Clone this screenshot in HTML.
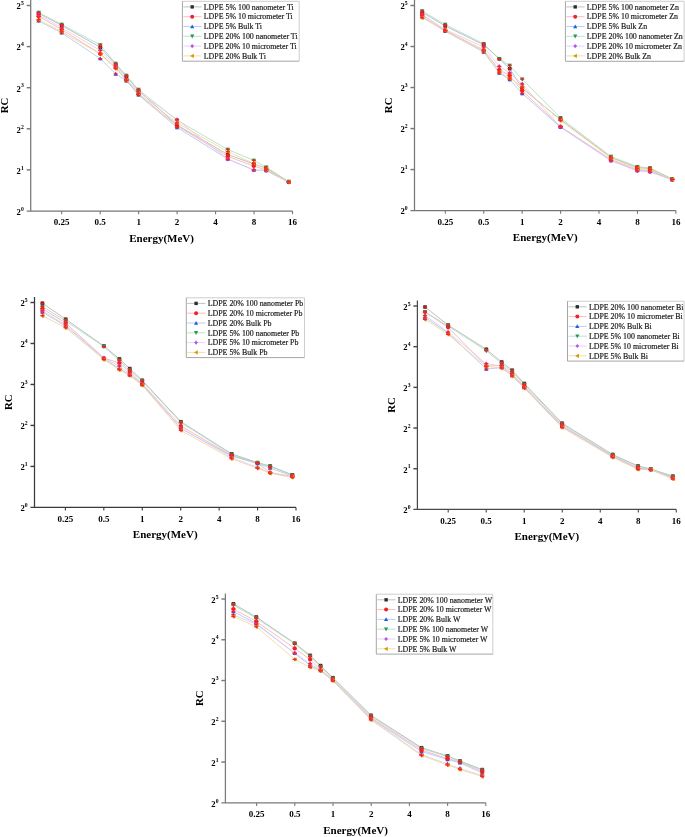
<!DOCTYPE html>
<html><head><meta charset="utf-8"><title>RC vs Energy</title>
<style>
html,body{margin:0;padding:0;background:#fff;}
body{width:685px;height:837px;overflow:hidden;font-family:"Liberation Serif",serif;}
svg{display:block;will-change:transform;}
</style></head>
<body>
<svg width="685" height="837" viewBox="0 0 685 837">
<rect width="685" height="837" fill="#fff"/>
<path d="M30.70 0.00V211.00M26.70 211.00H292.50" stroke="#777" stroke-width="1.25" fill="none"/>
<path d="M26.70 5.50H30.70" stroke="#777" stroke-width="1.45"/>
<text x="20.90" y="9.30" font-family='"Liberation Serif", serif' font-weight="bold" font-size="8.6" text-anchor="end">2</text>
<text x="21.00" y="5.20" font-family='"Liberation Serif", serif' font-weight="bold" font-size="5.7">5</text>
<path d="M26.70 46.60H30.70" stroke="#777" stroke-width="1.45"/>
<text x="20.90" y="50.40" font-family='"Liberation Serif", serif' font-weight="bold" font-size="8.6" text-anchor="end">2</text>
<text x="21.00" y="46.30" font-family='"Liberation Serif", serif' font-weight="bold" font-size="5.7">4</text>
<path d="M26.70 87.70H30.70" stroke="#777" stroke-width="1.45"/>
<text x="20.90" y="91.50" font-family='"Liberation Serif", serif' font-weight="bold" font-size="8.6" text-anchor="end">2</text>
<text x="21.00" y="87.40" font-family='"Liberation Serif", serif' font-weight="bold" font-size="5.7">3</text>
<path d="M26.70 128.80H30.70" stroke="#777" stroke-width="1.45"/>
<text x="20.90" y="132.60" font-family='"Liberation Serif", serif' font-weight="bold" font-size="8.6" text-anchor="end">2</text>
<text x="21.00" y="128.50" font-family='"Liberation Serif", serif' font-weight="bold" font-size="5.7">2</text>
<path d="M26.70 169.90H30.70" stroke="#777" stroke-width="1.45"/>
<text x="20.90" y="173.70" font-family='"Liberation Serif", serif' font-weight="bold" font-size="8.6" text-anchor="end">2</text>
<text x="21.00" y="169.60" font-family='"Liberation Serif", serif' font-weight="bold" font-size="5.7">1</text>
<text x="20.90" y="214.80" font-family='"Liberation Serif", serif' font-weight="bold" font-size="8.6" text-anchor="end">2</text>
<text x="21.00" y="210.70" font-family='"Liberation Serif", serif' font-weight="bold" font-size="5.7">0</text>
<path d="M61.70 211.00V214.20" stroke="#777" stroke-width="1.1"/>
<text x="61.70" y="225.20" font-family='"Liberation Serif", serif' font-weight="bold" font-size="9.0" text-anchor="middle">0.25</text>
<path d="M100.17 211.00V214.20" stroke="#777" stroke-width="1.1"/>
<text x="100.17" y="225.20" font-family='"Liberation Serif", serif' font-weight="bold" font-size="9.0" text-anchor="middle">0.5</text>
<path d="M138.63 211.00V214.20" stroke="#777" stroke-width="1.1"/>
<text x="138.63" y="225.20" font-family='"Liberation Serif", serif' font-weight="bold" font-size="9.0" text-anchor="middle">1</text>
<path d="M177.10 211.00V214.20" stroke="#777" stroke-width="1.1"/>
<text x="177.10" y="225.20" font-family='"Liberation Serif", serif' font-weight="bold" font-size="9.0" text-anchor="middle">2</text>
<path d="M215.57 211.00V214.20" stroke="#777" stroke-width="1.1"/>
<text x="215.57" y="225.20" font-family='"Liberation Serif", serif' font-weight="bold" font-size="9.0" text-anchor="middle">4</text>
<path d="M254.03 211.00V214.20" stroke="#777" stroke-width="1.1"/>
<text x="254.03" y="225.20" font-family='"Liberation Serif", serif' font-weight="bold" font-size="9.0" text-anchor="middle">8</text>
<path d="M292.50 211.00V214.20" stroke="#777" stroke-width="1.1"/>
<text x="292.50" y="225.20" font-family='"Liberation Serif", serif' font-weight="bold" font-size="9.0" text-anchor="middle">16</text>
<text x="161.60" y="241.80" font-family='"Liberation Serif", serif' font-weight="bold" font-size="11.0" text-anchor="middle">Energy(MeV)</text>
<text transform="translate(8.00 105.55) rotate(-90)" font-family='"Liberation Serif", serif' font-weight="bold" font-size="10.8" text-anchor="middle">RC</text>
<polyline points="38.60,13.20 61.70,25.40 100.30,47.30 115.70,64.60 126.40,76.50 138.50,90.50 177.00,125.00 227.80,154.50 253.80,164.00 266.20,168.00 288.80,182.00" fill="none" stroke="#b0b0b0" stroke-width="0.8"/>
<polyline points="38.60,16.30 61.70,29.60 100.30,53.80 115.70,67.70 126.40,80.00 138.50,94.30 177.00,125.80 227.80,156.50 253.80,166.00 266.20,170.00 288.80,182.00" fill="none" stroke="#ffa8a8" stroke-width="0.8"/>
<polyline points="38.60,20.80 61.70,32.80 100.30,58.60 115.70,73.90 126.40,80.80 138.50,94.80 177.00,127.40 227.80,159.00 253.80,170.00 266.20,170.50 288.80,182.20" fill="none" stroke="#a6c4f4" stroke-width="0.8"/>
<polyline points="38.60,12.60 61.70,24.40 100.30,45.00 115.70,63.60 126.40,75.60 138.50,89.60 177.00,120.20 227.80,149.50 253.80,160.40 266.20,167.20 288.80,181.60" fill="none" stroke="#a6dcbe" stroke-width="0.8"/>
<polyline points="38.60,14.80 61.70,27.80 100.30,50.30 115.70,66.00 126.40,79.00 138.50,91.70 177.00,119.60 227.80,159.30 253.80,170.00 266.20,170.50 288.80,182.20" fill="none" stroke="#dfc6f8" stroke-width="0.8"/>
<polyline points="38.60,19.50 61.70,31.80 100.30,54.00 115.70,68.60 126.40,80.20 138.50,93.30 177.00,122.80 227.80,151.70 253.80,163.50 266.20,169.00 288.80,182.00" fill="none" stroke="#f0d68c" stroke-width="0.8"/>
<rect x="36.84" y="11.44" width="3.52" height="3.52" fill="#2b2b2b"/>
<rect x="36.50" y="12.60" width="4.2" height="1.2" fill="#ff1a1a" opacity="0.9"/><path d="M38.60 11.40V15.10" stroke="#ff1a1a" stroke-width="0.75"/>
<rect x="59.94" y="23.64" width="3.52" height="3.52" fill="#2b2b2b"/>
<rect x="59.60" y="24.80" width="4.2" height="1.2" fill="#ff1a1a" opacity="0.9"/><path d="M61.70 23.60V27.30" stroke="#ff1a1a" stroke-width="0.75"/>
<rect x="98.54" y="45.54" width="3.52" height="3.52" fill="#2b2b2b"/>
<rect x="98.20" y="46.70" width="4.2" height="1.2" fill="#ff1a1a" opacity="0.9"/><path d="M100.30 45.50V49.20" stroke="#ff1a1a" stroke-width="0.75"/>
<rect x="113.94" y="62.84" width="3.52" height="3.52" fill="#2b2b2b"/>
<rect x="113.60" y="64.00" width="4.2" height="1.2" fill="#ff1a1a" opacity="0.9"/><path d="M115.70 62.80V66.50" stroke="#ff1a1a" stroke-width="0.75"/>
<rect x="124.64" y="74.74" width="3.52" height="3.52" fill="#2b2b2b"/>
<rect x="124.30" y="75.90" width="4.2" height="1.2" fill="#ff1a1a" opacity="0.9"/><path d="M126.40 74.70V78.40" stroke="#ff1a1a" stroke-width="0.75"/>
<rect x="136.74" y="88.74" width="3.52" height="3.52" fill="#2b2b2b"/>
<rect x="136.40" y="89.90" width="4.2" height="1.2" fill="#ff1a1a" opacity="0.9"/><path d="M138.50 88.70V92.40" stroke="#ff1a1a" stroke-width="0.75"/>
<rect x="175.24" y="123.24" width="3.52" height="3.52" fill="#2b2b2b"/>
<rect x="174.90" y="124.40" width="4.2" height="1.2" fill="#ff1a1a" opacity="0.9"/><path d="M177.00 123.20V126.90" stroke="#ff1a1a" stroke-width="0.75"/>
<rect x="226.04" y="152.74" width="3.52" height="3.52" fill="#2b2b2b"/>
<rect x="225.70" y="153.90" width="4.2" height="1.2" fill="#ff1a1a" opacity="0.9"/><path d="M227.80 152.70V156.40" stroke="#ff1a1a" stroke-width="0.75"/>
<rect x="252.04" y="162.24" width="3.52" height="3.52" fill="#2b2b2b"/>
<rect x="251.70" y="163.40" width="4.2" height="1.2" fill="#ff1a1a" opacity="0.9"/><path d="M253.80 162.20V165.90" stroke="#ff1a1a" stroke-width="0.75"/>
<rect x="264.44" y="166.24" width="3.52" height="3.52" fill="#2b2b2b"/>
<rect x="264.10" y="167.40" width="4.2" height="1.2" fill="#ff1a1a" opacity="0.9"/><path d="M266.20 166.20V169.90" stroke="#ff1a1a" stroke-width="0.75"/>
<rect x="287.04" y="180.24" width="3.52" height="3.52" fill="#2b2b2b"/>
<rect x="286.70" y="181.40" width="4.2" height="1.2" fill="#ff1a1a" opacity="0.9"/><path d="M288.80 180.20V183.90" stroke="#ff1a1a" stroke-width="0.75"/>
<circle cx="38.60" cy="16.30" r="2.09" fill="#f0202a"/>
<rect x="36.50" y="15.70" width="4.2" height="1.2" fill="#ff1a1a" opacity="0.9"/><path d="M38.60 14.50V18.20" stroke="#ff1a1a" stroke-width="0.75"/>
<circle cx="61.70" cy="29.60" r="2.09" fill="#f0202a"/>
<rect x="59.60" y="29.00" width="4.2" height="1.2" fill="#ff1a1a" opacity="0.9"/><path d="M61.70 27.80V31.50" stroke="#ff1a1a" stroke-width="0.75"/>
<circle cx="100.30" cy="53.80" r="2.09" fill="#f0202a"/>
<rect x="98.20" y="53.20" width="4.2" height="1.2" fill="#ff1a1a" opacity="0.9"/><path d="M100.30 52.00V55.70" stroke="#ff1a1a" stroke-width="0.75"/>
<circle cx="115.70" cy="67.70" r="2.09" fill="#f0202a"/>
<rect x="113.60" y="67.10" width="4.2" height="1.2" fill="#ff1a1a" opacity="0.9"/><path d="M115.70 65.90V69.60" stroke="#ff1a1a" stroke-width="0.75"/>
<circle cx="126.40" cy="80.00" r="2.09" fill="#f0202a"/>
<rect x="124.30" y="79.40" width="4.2" height="1.2" fill="#ff1a1a" opacity="0.9"/><path d="M126.40 78.20V81.90" stroke="#ff1a1a" stroke-width="0.75"/>
<circle cx="138.50" cy="94.30" r="2.09" fill="#f0202a"/>
<rect x="136.40" y="93.70" width="4.2" height="1.2" fill="#ff1a1a" opacity="0.9"/><path d="M138.50 92.50V96.20" stroke="#ff1a1a" stroke-width="0.75"/>
<circle cx="177.00" cy="125.80" r="2.09" fill="#f0202a"/>
<rect x="174.90" y="125.20" width="4.2" height="1.2" fill="#ff1a1a" opacity="0.9"/><path d="M177.00 124.00V127.70" stroke="#ff1a1a" stroke-width="0.75"/>
<circle cx="227.80" cy="156.50" r="2.09" fill="#f0202a"/>
<rect x="225.70" y="155.90" width="4.2" height="1.2" fill="#ff1a1a" opacity="0.9"/><path d="M227.80 154.70V158.40" stroke="#ff1a1a" stroke-width="0.75"/>
<circle cx="253.80" cy="166.00" r="2.09" fill="#f0202a"/>
<rect x="251.70" y="165.40" width="4.2" height="1.2" fill="#ff1a1a" opacity="0.9"/><path d="M253.80 164.20V167.90" stroke="#ff1a1a" stroke-width="0.75"/>
<circle cx="266.20" cy="170.00" r="2.09" fill="#f0202a"/>
<rect x="264.10" y="169.40" width="4.2" height="1.2" fill="#ff1a1a" opacity="0.9"/><path d="M266.20 168.20V171.90" stroke="#ff1a1a" stroke-width="0.75"/>
<circle cx="288.80" cy="182.00" r="2.09" fill="#f0202a"/>
<rect x="286.70" y="181.40" width="4.2" height="1.2" fill="#ff1a1a" opacity="0.9"/><path d="M288.80 180.20V183.90" stroke="#ff1a1a" stroke-width="0.75"/>
<path d="M38.60 18.60L40.80 22.56L36.40 22.56Z" fill="#1a5fe0"/>
<rect x="36.50" y="20.20" width="4.2" height="1.2" fill="#ff1a1a" opacity="0.9"/><path d="M38.60 19.00V22.70" stroke="#ff1a1a" stroke-width="0.75"/>
<path d="M61.70 30.60L63.90 34.56L59.50 34.56Z" fill="#1a5fe0"/>
<rect x="59.60" y="32.20" width="4.2" height="1.2" fill="#ff1a1a" opacity="0.9"/><path d="M61.70 31.00V34.70" stroke="#ff1a1a" stroke-width="0.75"/>
<path d="M100.30 56.40L102.50 60.36L98.10 60.36Z" fill="#1a5fe0"/>
<rect x="98.20" y="58.00" width="4.2" height="1.2" fill="#ff1a1a" opacity="0.9"/><path d="M100.30 56.80V60.50" stroke="#ff1a1a" stroke-width="0.75"/>
<path d="M115.70 71.70L117.90 75.66L113.50 75.66Z" fill="#1a5fe0"/>
<rect x="113.60" y="73.30" width="4.2" height="1.2" fill="#ff1a1a" opacity="0.9"/><path d="M115.70 72.10V75.80" stroke="#ff1a1a" stroke-width="0.75"/>
<path d="M126.40 78.60L128.60 82.56L124.20 82.56Z" fill="#1a5fe0"/>
<rect x="124.30" y="80.20" width="4.2" height="1.2" fill="#ff1a1a" opacity="0.9"/><path d="M126.40 79.00V82.70" stroke="#ff1a1a" stroke-width="0.75"/>
<path d="M138.50 92.60L140.70 96.56L136.30 96.56Z" fill="#1a5fe0"/>
<rect x="136.40" y="94.20" width="4.2" height="1.2" fill="#ff1a1a" opacity="0.9"/><path d="M138.50 93.00V96.70" stroke="#ff1a1a" stroke-width="0.75"/>
<path d="M177.00 125.20L179.20 129.16L174.80 129.16Z" fill="#1a5fe0"/>
<rect x="174.90" y="126.80" width="4.2" height="1.2" fill="#ff1a1a" opacity="0.9"/><path d="M177.00 125.60V129.30" stroke="#ff1a1a" stroke-width="0.75"/>
<path d="M227.80 156.80L230.00 160.76L225.60 160.76Z" fill="#1a5fe0"/>
<rect x="225.70" y="158.40" width="4.2" height="1.2" fill="#ff1a1a" opacity="0.9"/><path d="M227.80 157.20V160.90" stroke="#ff1a1a" stroke-width="0.75"/>
<path d="M253.80 167.80L256.00 171.76L251.60 171.76Z" fill="#1a5fe0"/>
<rect x="251.70" y="169.40" width="4.2" height="1.2" fill="#ff1a1a" opacity="0.9"/><path d="M253.80 168.20V171.90" stroke="#ff1a1a" stroke-width="0.75"/>
<path d="M266.20 168.30L268.40 172.26L264.00 172.26Z" fill="#1a5fe0"/>
<rect x="264.10" y="169.90" width="4.2" height="1.2" fill="#ff1a1a" opacity="0.9"/><path d="M266.20 168.70V172.40" stroke="#ff1a1a" stroke-width="0.75"/>
<path d="M288.80 180.00L291.00 183.96L286.60 183.96Z" fill="#1a5fe0"/>
<rect x="286.70" y="181.60" width="4.2" height="1.2" fill="#ff1a1a" opacity="0.9"/><path d="M288.80 180.40V184.10" stroke="#ff1a1a" stroke-width="0.75"/>
<path d="M38.60 14.80L40.80 10.84L36.40 10.84Z" fill="#1f9a58"/>
<rect x="36.50" y="12.00" width="4.2" height="1.2" fill="#ff1a1a" opacity="0.9"/><path d="M38.60 10.80V14.50" stroke="#ff1a1a" stroke-width="0.75"/>
<path d="M61.70 26.60L63.90 22.64L59.50 22.64Z" fill="#1f9a58"/>
<rect x="59.60" y="23.80" width="4.2" height="1.2" fill="#ff1a1a" opacity="0.9"/><path d="M61.70 22.60V26.30" stroke="#ff1a1a" stroke-width="0.75"/>
<path d="M100.30 47.20L102.50 43.24L98.10 43.24Z" fill="#1f9a58"/>
<rect x="98.20" y="44.40" width="4.2" height="1.2" fill="#ff1a1a" opacity="0.9"/><path d="M100.30 43.20V46.90" stroke="#ff1a1a" stroke-width="0.75"/>
<path d="M115.70 65.80L117.90 61.84L113.50 61.84Z" fill="#1f9a58"/>
<rect x="113.60" y="63.00" width="4.2" height="1.2" fill="#ff1a1a" opacity="0.9"/><path d="M115.70 61.80V65.50" stroke="#ff1a1a" stroke-width="0.75"/>
<path d="M126.40 77.80L128.60 73.84L124.20 73.84Z" fill="#1f9a58"/>
<rect x="124.30" y="75.00" width="4.2" height="1.2" fill="#ff1a1a" opacity="0.9"/><path d="M126.40 73.80V77.50" stroke="#ff1a1a" stroke-width="0.75"/>
<path d="M138.50 91.80L140.70 87.84L136.30 87.84Z" fill="#1f9a58"/>
<rect x="136.40" y="89.00" width="4.2" height="1.2" fill="#ff1a1a" opacity="0.9"/><path d="M138.50 87.80V91.50" stroke="#ff1a1a" stroke-width="0.75"/>
<path d="M177.00 122.40L179.20 118.44L174.80 118.44Z" fill="#1f9a58"/>
<rect x="174.90" y="119.60" width="4.2" height="1.2" fill="#ff1a1a" opacity="0.9"/><path d="M177.00 118.40V122.10" stroke="#ff1a1a" stroke-width="0.75"/>
<path d="M227.80 151.70L230.00 147.74L225.60 147.74Z" fill="#1f9a58"/>
<rect x="225.70" y="148.90" width="4.2" height="1.2" fill="#ff1a1a" opacity="0.9"/><path d="M227.80 147.70V151.40" stroke="#ff1a1a" stroke-width="0.75"/>
<path d="M253.80 162.60L256.00 158.64L251.60 158.64Z" fill="#1f9a58"/>
<rect x="251.70" y="159.80" width="4.2" height="1.2" fill="#ff1a1a" opacity="0.9"/><path d="M253.80 158.60V162.30" stroke="#ff1a1a" stroke-width="0.75"/>
<path d="M266.20 169.40L268.40 165.44L264.00 165.44Z" fill="#1f9a58"/>
<rect x="264.10" y="166.60" width="4.2" height="1.2" fill="#ff1a1a" opacity="0.9"/><path d="M266.20 165.40V169.10" stroke="#ff1a1a" stroke-width="0.75"/>
<path d="M288.80 183.80L291.00 179.84L286.60 179.84Z" fill="#1f9a58"/>
<rect x="286.70" y="181.00" width="4.2" height="1.2" fill="#ff1a1a" opacity="0.9"/><path d="M288.80 179.80V183.50" stroke="#ff1a1a" stroke-width="0.75"/>
<path d="M38.60 12.60L40.58 14.80L38.60 17.00L36.62 14.80Z" fill="#b05ce6"/>
<rect x="36.50" y="14.20" width="4.2" height="1.2" fill="#ff1a1a" opacity="0.9"/><path d="M38.60 13.00V16.70" stroke="#ff1a1a" stroke-width="0.75"/>
<path d="M61.70 25.60L63.68 27.80L61.70 30.00L59.72 27.80Z" fill="#b05ce6"/>
<rect x="59.60" y="27.20" width="4.2" height="1.2" fill="#ff1a1a" opacity="0.9"/><path d="M61.70 26.00V29.70" stroke="#ff1a1a" stroke-width="0.75"/>
<path d="M100.30 48.10L102.28 50.30L100.30 52.50L98.32 50.30Z" fill="#b05ce6"/>
<rect x="98.20" y="49.70" width="4.2" height="1.2" fill="#ff1a1a" opacity="0.9"/><path d="M100.30 48.50V52.20" stroke="#ff1a1a" stroke-width="0.75"/>
<path d="M115.70 63.80L117.68 66.00L115.70 68.20L113.72 66.00Z" fill="#b05ce6"/>
<rect x="113.60" y="65.40" width="4.2" height="1.2" fill="#ff1a1a" opacity="0.9"/><path d="M115.70 64.20V67.90" stroke="#ff1a1a" stroke-width="0.75"/>
<path d="M126.40 76.80L128.38 79.00L126.40 81.20L124.42 79.00Z" fill="#b05ce6"/>
<rect x="124.30" y="78.40" width="4.2" height="1.2" fill="#ff1a1a" opacity="0.9"/><path d="M126.40 77.20V80.90" stroke="#ff1a1a" stroke-width="0.75"/>
<path d="M138.50 89.50L140.48 91.70L138.50 93.90L136.52 91.70Z" fill="#b05ce6"/>
<rect x="136.40" y="91.10" width="4.2" height="1.2" fill="#ff1a1a" opacity="0.9"/><path d="M138.50 89.90V93.60" stroke="#ff1a1a" stroke-width="0.75"/>
<path d="M177.00 117.40L178.98 119.60L177.00 121.80L175.02 119.60Z" fill="#b05ce6"/>
<rect x="174.90" y="119.00" width="4.2" height="1.2" fill="#ff1a1a" opacity="0.9"/><path d="M177.00 117.80V121.50" stroke="#ff1a1a" stroke-width="0.75"/>
<path d="M227.80 157.10L229.78 159.30L227.80 161.50L225.82 159.30Z" fill="#b05ce6"/>
<rect x="225.70" y="158.70" width="4.2" height="1.2" fill="#ff1a1a" opacity="0.9"/><path d="M227.80 157.50V161.20" stroke="#ff1a1a" stroke-width="0.75"/>
<path d="M253.80 167.80L255.78 170.00L253.80 172.20L251.82 170.00Z" fill="#b05ce6"/>
<rect x="251.70" y="169.40" width="4.2" height="1.2" fill="#ff1a1a" opacity="0.9"/><path d="M253.80 168.20V171.90" stroke="#ff1a1a" stroke-width="0.75"/>
<path d="M266.20 168.30L268.18 170.50L266.20 172.70L264.22 170.50Z" fill="#b05ce6"/>
<rect x="264.10" y="169.90" width="4.2" height="1.2" fill="#ff1a1a" opacity="0.9"/><path d="M266.20 168.70V172.40" stroke="#ff1a1a" stroke-width="0.75"/>
<path d="M288.80 180.00L290.78 182.20L288.80 184.40L286.82 182.20Z" fill="#b05ce6"/>
<rect x="286.70" y="181.60" width="4.2" height="1.2" fill="#ff1a1a" opacity="0.9"/><path d="M288.80 180.40V184.10" stroke="#ff1a1a" stroke-width="0.75"/>
<path d="M36.40 19.50L40.36 17.30L40.36 21.70Z" fill="#d49a00"/>
<rect x="36.50" y="18.90" width="4.2" height="1.2" fill="#ff1a1a" opacity="0.9"/><path d="M38.60 17.70V21.40" stroke="#ff1a1a" stroke-width="0.75"/>
<path d="M59.50 31.80L63.46 29.60L63.46 34.00Z" fill="#d49a00"/>
<rect x="59.60" y="31.20" width="4.2" height="1.2" fill="#ff1a1a" opacity="0.9"/><path d="M61.70 30.00V33.70" stroke="#ff1a1a" stroke-width="0.75"/>
<path d="M98.10 54.00L102.06 51.80L102.06 56.20Z" fill="#d49a00"/>
<rect x="98.20" y="53.40" width="4.2" height="1.2" fill="#ff1a1a" opacity="0.9"/><path d="M100.30 52.20V55.90" stroke="#ff1a1a" stroke-width="0.75"/>
<path d="M113.50 68.60L117.46 66.40L117.46 70.80Z" fill="#d49a00"/>
<rect x="113.60" y="68.00" width="4.2" height="1.2" fill="#ff1a1a" opacity="0.9"/><path d="M115.70 66.80V70.50" stroke="#ff1a1a" stroke-width="0.75"/>
<path d="M124.20 80.20L128.16 78.00L128.16 82.40Z" fill="#d49a00"/>
<rect x="124.30" y="79.60" width="4.2" height="1.2" fill="#ff1a1a" opacity="0.9"/><path d="M126.40 78.40V82.10" stroke="#ff1a1a" stroke-width="0.75"/>
<path d="M136.30 93.30L140.26 91.10L140.26 95.50Z" fill="#d49a00"/>
<rect x="136.40" y="92.70" width="4.2" height="1.2" fill="#ff1a1a" opacity="0.9"/><path d="M138.50 91.50V95.20" stroke="#ff1a1a" stroke-width="0.75"/>
<path d="M174.80 122.80L178.76 120.60L178.76 125.00Z" fill="#d49a00"/>
<rect x="174.90" y="122.20" width="4.2" height="1.2" fill="#ff1a1a" opacity="0.9"/><path d="M177.00 121.00V124.70" stroke="#ff1a1a" stroke-width="0.75"/>
<path d="M225.60 151.70L229.56 149.50L229.56 153.90Z" fill="#d49a00"/>
<rect x="225.70" y="151.10" width="4.2" height="1.2" fill="#ff1a1a" opacity="0.9"/><path d="M227.80 149.90V153.60" stroke="#ff1a1a" stroke-width="0.75"/>
<path d="M251.60 163.50L255.56 161.30L255.56 165.70Z" fill="#d49a00"/>
<rect x="251.70" y="162.90" width="4.2" height="1.2" fill="#ff1a1a" opacity="0.9"/><path d="M253.80 161.70V165.40" stroke="#ff1a1a" stroke-width="0.75"/>
<path d="M264.00 169.00L267.96 166.80L267.96 171.20Z" fill="#d49a00"/>
<rect x="264.10" y="168.40" width="4.2" height="1.2" fill="#ff1a1a" opacity="0.9"/><path d="M266.20 167.20V170.90" stroke="#ff1a1a" stroke-width="0.75"/>
<path d="M286.60 182.00L290.56 179.80L290.56 184.20Z" fill="#d49a00"/>
<rect x="286.70" y="181.40" width="4.2" height="1.2" fill="#ff1a1a" opacity="0.9"/><path d="M288.80 180.20V183.90" stroke="#ff1a1a" stroke-width="0.75"/>
<rect x="182.40" y="1.30" width="116.80" height="59.90" fill="#fff"/>
<path d="M182.40 1.30H299.20V61.20" stroke="#cdcdcd" stroke-width="1.0" fill="none"/>
<path d="M182.40 1.30V61.20H299.20" stroke="#a6a6a6" stroke-width="1.0" fill="none"/>
<path d="M183.40 6.90H201.60" stroke="#b0b0b0" stroke-width="0.8"/>
<rect x="190.52" y="5.22" width="3.36" height="3.36" fill="#2b2b2b"/>
<text x="203.80" y="9.60" font-family='"Liberation Serif", serif' font-size="7.9" fill="#1a1a1a" stroke="#1a1a1a" stroke-width="0.18">LDPE 5% 100 nanometer Ti</text>
<path d="M183.40 16.70H201.60" stroke="#ffa8a8" stroke-width="0.8"/>
<circle cx="192.20" cy="16.70" r="1.99" fill="#f0202a"/>
<text x="203.80" y="19.40" font-family='"Liberation Serif", serif' font-size="7.9" fill="#1a1a1a" stroke="#1a1a1a" stroke-width="0.18">LDPE 5% 10 micrometer Ti</text>
<path d="M183.40 26.50H201.60" stroke="#a6c4f4" stroke-width="0.8"/>
<path d="M192.20 24.40L194.30 28.18L190.10 28.18Z" fill="#1a5fe0"/>
<text x="203.80" y="29.20" font-family='"Liberation Serif", serif' font-size="7.9" fill="#1a1a1a" stroke="#1a1a1a" stroke-width="0.18">LDPE 5% Bulk Ti</text>
<path d="M183.40 36.30H201.60" stroke="#a6dcbe" stroke-width="0.8"/>
<path d="M192.20 38.40L194.30 34.62L190.10 34.62Z" fill="#1f9a58"/>
<text x="203.80" y="39.00" font-family='"Liberation Serif", serif' font-size="7.9" fill="#1a1a1a" stroke="#1a1a1a" stroke-width="0.18">LDPE 20% 100 nanometer Ti</text>
<path d="M183.40 46.10H201.60" stroke="#dfc6f8" stroke-width="0.8"/>
<path d="M192.20 44.00L194.09 46.10L192.20 48.20L190.31 46.10Z" fill="#b05ce6"/>
<text x="203.80" y="48.80" font-family='"Liberation Serif", serif' font-size="7.9" fill="#1a1a1a" stroke="#1a1a1a" stroke-width="0.18">LDPE 20% 10 micrometer Ti</text>
<path d="M183.40 55.90H201.60" stroke="#f0d68c" stroke-width="0.8"/>
<path d="M190.10 55.90L193.88 53.80L193.88 58.00Z" fill="#d49a00"/>
<text x="203.80" y="58.60" font-family='"Liberation Serif", serif' font-size="7.9" fill="#1a1a1a" stroke="#1a1a1a" stroke-width="0.18">LDPE 20% Bulk Ti</text>
<path d="M414.50 0.00V210.60M410.50 210.60H675.90" stroke="#777" stroke-width="1.25" fill="none"/>
<path d="M410.50 5.50H414.50" stroke="#777" stroke-width="1.45"/>
<text x="404.70" y="9.30" font-family='"Liberation Serif", serif' font-weight="bold" font-size="8.6" text-anchor="end">2</text>
<text x="404.80" y="5.20" font-family='"Liberation Serif", serif' font-weight="bold" font-size="5.7">5</text>
<path d="M410.50 46.52H414.50" stroke="#777" stroke-width="1.45"/>
<text x="404.70" y="50.32" font-family='"Liberation Serif", serif' font-weight="bold" font-size="8.6" text-anchor="end">2</text>
<text x="404.80" y="46.22" font-family='"Liberation Serif", serif' font-weight="bold" font-size="5.7">4</text>
<path d="M410.50 87.54H414.50" stroke="#777" stroke-width="1.45"/>
<text x="404.70" y="91.34" font-family='"Liberation Serif", serif' font-weight="bold" font-size="8.6" text-anchor="end">2</text>
<text x="404.80" y="87.24" font-family='"Liberation Serif", serif' font-weight="bold" font-size="5.7">3</text>
<path d="M410.50 128.56H414.50" stroke="#777" stroke-width="1.45"/>
<text x="404.70" y="132.36" font-family='"Liberation Serif", serif' font-weight="bold" font-size="8.6" text-anchor="end">2</text>
<text x="404.80" y="128.26" font-family='"Liberation Serif", serif' font-weight="bold" font-size="5.7">2</text>
<path d="M410.50 169.58H414.50" stroke="#777" stroke-width="1.45"/>
<text x="404.70" y="173.38" font-family='"Liberation Serif", serif' font-weight="bold" font-size="8.6" text-anchor="end">2</text>
<text x="404.80" y="169.28" font-family='"Liberation Serif", serif' font-weight="bold" font-size="5.7">1</text>
<text x="404.70" y="214.40" font-family='"Liberation Serif", serif' font-weight="bold" font-size="8.6" text-anchor="end">2</text>
<text x="404.80" y="210.30" font-family='"Liberation Serif", serif' font-weight="bold" font-size="5.7">0</text>
<path d="M445.30 210.60V213.80" stroke="#777" stroke-width="1.1"/>
<text x="445.30" y="224.80" font-family='"Liberation Serif", serif' font-weight="bold" font-size="9.0" text-anchor="middle">0.25</text>
<path d="M483.73 210.60V213.80" stroke="#777" stroke-width="1.1"/>
<text x="483.73" y="224.80" font-family='"Liberation Serif", serif' font-weight="bold" font-size="9.0" text-anchor="middle">0.5</text>
<path d="M522.17 210.60V213.80" stroke="#777" stroke-width="1.1"/>
<text x="522.17" y="224.80" font-family='"Liberation Serif", serif' font-weight="bold" font-size="9.0" text-anchor="middle">1</text>
<path d="M560.60 210.60V213.80" stroke="#777" stroke-width="1.1"/>
<text x="560.60" y="224.80" font-family='"Liberation Serif", serif' font-weight="bold" font-size="9.0" text-anchor="middle">2</text>
<path d="M599.03 210.60V213.80" stroke="#777" stroke-width="1.1"/>
<text x="599.03" y="224.80" font-family='"Liberation Serif", serif' font-weight="bold" font-size="9.0" text-anchor="middle">4</text>
<path d="M637.47 210.60V213.80" stroke="#777" stroke-width="1.1"/>
<text x="637.47" y="224.80" font-family='"Liberation Serif", serif' font-weight="bold" font-size="9.0" text-anchor="middle">8</text>
<path d="M675.90 210.60V213.80" stroke="#777" stroke-width="1.1"/>
<text x="675.90" y="224.80" font-family='"Liberation Serif", serif' font-weight="bold" font-size="9.0" text-anchor="middle">16</text>
<text x="545.20" y="241.40" font-family='"Liberation Serif", serif' font-weight="bold" font-size="11.0" text-anchor="middle">Energy(MeV)</text>
<text transform="translate(391.80 105.35) rotate(-90)" font-family='"Liberation Serif", serif' font-weight="bold" font-size="10.8" text-anchor="middle">RC</text>
<polyline points="422.20,12.30 445.20,26.00 483.70,44.80 499.30,58.90 509.70,68.60 522.20,88.30 560.50,119.50 611.00,157.50 637.30,167.50 650.00,168.50 672.20,179.20" fill="none" stroke="#b0b0b0" stroke-width="0.8"/>
<polyline points="422.20,14.50 445.20,30.40 483.70,50.00 499.30,69.90 509.70,75.60 522.20,90.80 560.50,126.50 611.00,159.50 637.30,169.50 650.00,170.50 672.20,179.50" fill="none" stroke="#ffa8a8" stroke-width="0.8"/>
<polyline points="422.20,16.80 445.20,31.20 483.70,52.00 499.30,73.00 509.70,79.50 522.20,93.50 560.50,127.20 611.00,160.50 637.30,170.50 650.00,171.50 672.20,179.70" fill="none" stroke="#a6c4f4" stroke-width="0.8"/>
<polyline points="422.20,11.00 445.20,24.50 483.70,43.80 499.30,58.90 509.70,65.50 522.20,79.20 560.50,117.80 611.00,156.60 637.30,166.70 650.00,167.90 672.20,179.00" fill="none" stroke="#a6dcbe" stroke-width="0.8"/>
<polyline points="422.20,15.50 445.20,29.50 483.70,47.00 499.30,66.40 509.70,73.00 522.20,84.00 560.50,127.00 611.00,160.70 637.30,171.00 650.00,172.00 672.20,179.70" fill="none" stroke="#dfc6f8" stroke-width="0.8"/>
<polyline points="422.20,17.80 445.20,30.90 483.70,51.00 499.30,72.10 509.70,78.00 522.20,87.00 560.50,120.50 611.00,158.00 637.30,168.50 650.00,169.50 672.20,179.40" fill="none" stroke="#f0d68c" stroke-width="0.8"/>
<rect x="420.44" y="10.54" width="3.52" height="3.52" fill="#2b2b2b"/>
<rect x="420.10" y="11.70" width="4.2" height="1.2" fill="#ff1a1a" opacity="0.9"/><path d="M422.20 10.50V14.20" stroke="#ff1a1a" stroke-width="0.75"/>
<rect x="443.44" y="24.24" width="3.52" height="3.52" fill="#2b2b2b"/>
<rect x="443.10" y="25.40" width="4.2" height="1.2" fill="#ff1a1a" opacity="0.9"/><path d="M445.20 24.20V27.90" stroke="#ff1a1a" stroke-width="0.75"/>
<rect x="481.94" y="43.04" width="3.52" height="3.52" fill="#2b2b2b"/>
<rect x="481.60" y="44.20" width="4.2" height="1.2" fill="#ff1a1a" opacity="0.9"/><path d="M483.70 43.00V46.70" stroke="#ff1a1a" stroke-width="0.75"/>
<rect x="497.54" y="57.14" width="3.52" height="3.52" fill="#2b2b2b"/>
<rect x="497.20" y="58.30" width="4.2" height="1.2" fill="#ff1a1a" opacity="0.9"/><path d="M499.30 57.10V60.80" stroke="#ff1a1a" stroke-width="0.75"/>
<rect x="507.94" y="66.84" width="3.52" height="3.52" fill="#2b2b2b"/>
<rect x="507.60" y="68.00" width="4.2" height="1.2" fill="#ff1a1a" opacity="0.9"/><path d="M509.70 66.80V70.50" stroke="#ff1a1a" stroke-width="0.75"/>
<rect x="520.44" y="86.54" width="3.52" height="3.52" fill="#2b2b2b"/>
<rect x="520.10" y="87.70" width="4.2" height="1.2" fill="#ff1a1a" opacity="0.9"/><path d="M522.20 86.50V90.20" stroke="#ff1a1a" stroke-width="0.75"/>
<rect x="558.74" y="117.74" width="3.52" height="3.52" fill="#2b2b2b"/>
<rect x="558.40" y="118.90" width="4.2" height="1.2" fill="#ff1a1a" opacity="0.9"/><path d="M560.50 117.70V121.40" stroke="#ff1a1a" stroke-width="0.75"/>
<rect x="609.24" y="155.74" width="3.52" height="3.52" fill="#2b2b2b"/>
<rect x="608.90" y="156.90" width="4.2" height="1.2" fill="#ff1a1a" opacity="0.9"/><path d="M611.00 155.70V159.40" stroke="#ff1a1a" stroke-width="0.75"/>
<rect x="635.54" y="165.74" width="3.52" height="3.52" fill="#2b2b2b"/>
<rect x="635.20" y="166.90" width="4.2" height="1.2" fill="#ff1a1a" opacity="0.9"/><path d="M637.30 165.70V169.40" stroke="#ff1a1a" stroke-width="0.75"/>
<rect x="648.24" y="166.74" width="3.52" height="3.52" fill="#2b2b2b"/>
<rect x="647.90" y="167.90" width="4.2" height="1.2" fill="#ff1a1a" opacity="0.9"/><path d="M650.00 166.70V170.40" stroke="#ff1a1a" stroke-width="0.75"/>
<rect x="670.44" y="177.44" width="3.52" height="3.52" fill="#2b2b2b"/>
<rect x="670.10" y="178.60" width="4.2" height="1.2" fill="#ff1a1a" opacity="0.9"/><path d="M672.20 177.40V181.10" stroke="#ff1a1a" stroke-width="0.75"/>
<circle cx="422.20" cy="14.50" r="2.09" fill="#f0202a"/>
<rect x="420.10" y="13.90" width="4.2" height="1.2" fill="#ff1a1a" opacity="0.9"/><path d="M422.20 12.70V16.40" stroke="#ff1a1a" stroke-width="0.75"/>
<circle cx="445.20" cy="30.40" r="2.09" fill="#f0202a"/>
<rect x="443.10" y="29.80" width="4.2" height="1.2" fill="#ff1a1a" opacity="0.9"/><path d="M445.20 28.60V32.30" stroke="#ff1a1a" stroke-width="0.75"/>
<circle cx="483.70" cy="50.00" r="2.09" fill="#f0202a"/>
<rect x="481.60" y="49.40" width="4.2" height="1.2" fill="#ff1a1a" opacity="0.9"/><path d="M483.70 48.20V51.90" stroke="#ff1a1a" stroke-width="0.75"/>
<circle cx="499.30" cy="69.90" r="2.09" fill="#f0202a"/>
<rect x="497.20" y="69.30" width="4.2" height="1.2" fill="#ff1a1a" opacity="0.9"/><path d="M499.30 68.10V71.80" stroke="#ff1a1a" stroke-width="0.75"/>
<circle cx="509.70" cy="75.60" r="2.09" fill="#f0202a"/>
<rect x="507.60" y="75.00" width="4.2" height="1.2" fill="#ff1a1a" opacity="0.9"/><path d="M509.70 73.80V77.50" stroke="#ff1a1a" stroke-width="0.75"/>
<circle cx="522.20" cy="90.80" r="2.09" fill="#f0202a"/>
<rect x="520.10" y="90.20" width="4.2" height="1.2" fill="#ff1a1a" opacity="0.9"/><path d="M522.20 89.00V92.70" stroke="#ff1a1a" stroke-width="0.75"/>
<circle cx="560.50" cy="126.50" r="2.09" fill="#f0202a"/>
<rect x="558.40" y="125.90" width="4.2" height="1.2" fill="#ff1a1a" opacity="0.9"/><path d="M560.50 124.70V128.40" stroke="#ff1a1a" stroke-width="0.75"/>
<circle cx="611.00" cy="159.50" r="2.09" fill="#f0202a"/>
<rect x="608.90" y="158.90" width="4.2" height="1.2" fill="#ff1a1a" opacity="0.9"/><path d="M611.00 157.70V161.40" stroke="#ff1a1a" stroke-width="0.75"/>
<circle cx="637.30" cy="169.50" r="2.09" fill="#f0202a"/>
<rect x="635.20" y="168.90" width="4.2" height="1.2" fill="#ff1a1a" opacity="0.9"/><path d="M637.30 167.70V171.40" stroke="#ff1a1a" stroke-width="0.75"/>
<circle cx="650.00" cy="170.50" r="2.09" fill="#f0202a"/>
<rect x="647.90" y="169.90" width="4.2" height="1.2" fill="#ff1a1a" opacity="0.9"/><path d="M650.00 168.70V172.40" stroke="#ff1a1a" stroke-width="0.75"/>
<circle cx="672.20" cy="179.50" r="2.09" fill="#f0202a"/>
<rect x="670.10" y="178.90" width="4.2" height="1.2" fill="#ff1a1a" opacity="0.9"/><path d="M672.20 177.70V181.40" stroke="#ff1a1a" stroke-width="0.75"/>
<path d="M422.20 14.60L424.40 18.56L420.00 18.56Z" fill="#1a5fe0"/>
<rect x="420.10" y="16.20" width="4.2" height="1.2" fill="#ff1a1a" opacity="0.9"/><path d="M422.20 15.00V18.70" stroke="#ff1a1a" stroke-width="0.75"/>
<path d="M445.20 29.00L447.40 32.96L443.00 32.96Z" fill="#1a5fe0"/>
<rect x="443.10" y="30.60" width="4.2" height="1.2" fill="#ff1a1a" opacity="0.9"/><path d="M445.20 29.40V33.10" stroke="#ff1a1a" stroke-width="0.75"/>
<path d="M483.70 49.80L485.90 53.76L481.50 53.76Z" fill="#1a5fe0"/>
<rect x="481.60" y="51.40" width="4.2" height="1.2" fill="#ff1a1a" opacity="0.9"/><path d="M483.70 50.20V53.90" stroke="#ff1a1a" stroke-width="0.75"/>
<path d="M499.30 70.80L501.50 74.76L497.10 74.76Z" fill="#1a5fe0"/>
<rect x="497.20" y="72.40" width="4.2" height="1.2" fill="#ff1a1a" opacity="0.9"/><path d="M499.30 71.20V74.90" stroke="#ff1a1a" stroke-width="0.75"/>
<path d="M509.70 77.30L511.90 81.26L507.50 81.26Z" fill="#1a5fe0"/>
<rect x="507.60" y="78.90" width="4.2" height="1.2" fill="#ff1a1a" opacity="0.9"/><path d="M509.70 77.70V81.40" stroke="#ff1a1a" stroke-width="0.75"/>
<path d="M522.20 91.30L524.40 95.26L520.00 95.26Z" fill="#1a5fe0"/>
<rect x="520.10" y="92.90" width="4.2" height="1.2" fill="#ff1a1a" opacity="0.9"/><path d="M522.20 91.70V95.40" stroke="#ff1a1a" stroke-width="0.75"/>
<path d="M560.50 125.00L562.70 128.96L558.30 128.96Z" fill="#1a5fe0"/>
<rect x="558.40" y="126.60" width="4.2" height="1.2" fill="#ff1a1a" opacity="0.9"/><path d="M560.50 125.40V129.10" stroke="#ff1a1a" stroke-width="0.75"/>
<path d="M611.00 158.30L613.20 162.26L608.80 162.26Z" fill="#1a5fe0"/>
<rect x="608.90" y="159.90" width="4.2" height="1.2" fill="#ff1a1a" opacity="0.9"/><path d="M611.00 158.70V162.40" stroke="#ff1a1a" stroke-width="0.75"/>
<path d="M637.30 168.30L639.50 172.26L635.10 172.26Z" fill="#1a5fe0"/>
<rect x="635.20" y="169.90" width="4.2" height="1.2" fill="#ff1a1a" opacity="0.9"/><path d="M637.30 168.70V172.40" stroke="#ff1a1a" stroke-width="0.75"/>
<path d="M650.00 169.30L652.20 173.26L647.80 173.26Z" fill="#1a5fe0"/>
<rect x="647.90" y="170.90" width="4.2" height="1.2" fill="#ff1a1a" opacity="0.9"/><path d="M650.00 169.70V173.40" stroke="#ff1a1a" stroke-width="0.75"/>
<path d="M672.20 177.50L674.40 181.46L670.00 181.46Z" fill="#1a5fe0"/>
<rect x="670.10" y="179.10" width="4.2" height="1.2" fill="#ff1a1a" opacity="0.9"/><path d="M672.20 177.90V181.60" stroke="#ff1a1a" stroke-width="0.75"/>
<path d="M422.20 13.20L424.40 9.24L420.00 9.24Z" fill="#1f9a58"/>
<rect x="420.10" y="10.40" width="4.2" height="1.2" fill="#ff1a1a" opacity="0.9"/><path d="M422.20 9.20V12.90" stroke="#ff1a1a" stroke-width="0.75"/>
<path d="M445.20 26.70L447.40 22.74L443.00 22.74Z" fill="#1f9a58"/>
<rect x="443.10" y="23.90" width="4.2" height="1.2" fill="#ff1a1a" opacity="0.9"/><path d="M445.20 22.70V26.40" stroke="#ff1a1a" stroke-width="0.75"/>
<path d="M483.70 46.00L485.90 42.04L481.50 42.04Z" fill="#1f9a58"/>
<rect x="481.60" y="43.20" width="4.2" height="1.2" fill="#ff1a1a" opacity="0.9"/><path d="M483.70 42.00V45.70" stroke="#ff1a1a" stroke-width="0.75"/>
<path d="M499.30 61.10L501.50 57.14L497.10 57.14Z" fill="#1f9a58"/>
<rect x="497.20" y="58.30" width="4.2" height="1.2" fill="#ff1a1a" opacity="0.9"/><path d="M499.30 57.10V60.80" stroke="#ff1a1a" stroke-width="0.75"/>
<path d="M509.70 67.70L511.90 63.74L507.50 63.74Z" fill="#1f9a58"/>
<rect x="507.60" y="64.90" width="4.2" height="1.2" fill="#ff1a1a" opacity="0.9"/><path d="M509.70 63.70V67.40" stroke="#ff1a1a" stroke-width="0.75"/>
<path d="M522.20 81.40L524.40 77.44L520.00 77.44Z" fill="#1f9a58"/>
<rect x="520.10" y="78.60" width="4.2" height="1.2" fill="#ff1a1a" opacity="0.9"/><path d="M522.20 77.40V81.10" stroke="#ff1a1a" stroke-width="0.75"/>
<path d="M560.50 120.00L562.70 116.04L558.30 116.04Z" fill="#1f9a58"/>
<rect x="558.40" y="117.20" width="4.2" height="1.2" fill="#ff1a1a" opacity="0.9"/><path d="M560.50 116.00V119.70" stroke="#ff1a1a" stroke-width="0.75"/>
<path d="M611.00 158.80L613.20 154.84L608.80 154.84Z" fill="#1f9a58"/>
<rect x="608.90" y="156.00" width="4.2" height="1.2" fill="#ff1a1a" opacity="0.9"/><path d="M611.00 154.80V158.50" stroke="#ff1a1a" stroke-width="0.75"/>
<path d="M637.30 168.90L639.50 164.94L635.10 164.94Z" fill="#1f9a58"/>
<rect x="635.20" y="166.10" width="4.2" height="1.2" fill="#ff1a1a" opacity="0.9"/><path d="M637.30 164.90V168.60" stroke="#ff1a1a" stroke-width="0.75"/>
<path d="M650.00 170.10L652.20 166.14L647.80 166.14Z" fill="#1f9a58"/>
<rect x="647.90" y="167.30" width="4.2" height="1.2" fill="#ff1a1a" opacity="0.9"/><path d="M650.00 166.10V169.80" stroke="#ff1a1a" stroke-width="0.75"/>
<path d="M672.20 181.20L674.40 177.24L670.00 177.24Z" fill="#1f9a58"/>
<rect x="670.10" y="178.40" width="4.2" height="1.2" fill="#ff1a1a" opacity="0.9"/><path d="M672.20 177.20V180.90" stroke="#ff1a1a" stroke-width="0.75"/>
<path d="M422.20 13.30L424.18 15.50L422.20 17.70L420.22 15.50Z" fill="#b05ce6"/>
<rect x="420.10" y="14.90" width="4.2" height="1.2" fill="#ff1a1a" opacity="0.9"/><path d="M422.20 13.70V17.40" stroke="#ff1a1a" stroke-width="0.75"/>
<path d="M445.20 27.30L447.18 29.50L445.20 31.70L443.22 29.50Z" fill="#b05ce6"/>
<rect x="443.10" y="28.90" width="4.2" height="1.2" fill="#ff1a1a" opacity="0.9"/><path d="M445.20 27.70V31.40" stroke="#ff1a1a" stroke-width="0.75"/>
<path d="M483.70 44.80L485.68 47.00L483.70 49.20L481.72 47.00Z" fill="#b05ce6"/>
<rect x="481.60" y="46.40" width="4.2" height="1.2" fill="#ff1a1a" opacity="0.9"/><path d="M483.70 45.20V48.90" stroke="#ff1a1a" stroke-width="0.75"/>
<path d="M499.30 64.20L501.28 66.40L499.30 68.60L497.32 66.40Z" fill="#b05ce6"/>
<rect x="497.20" y="65.80" width="4.2" height="1.2" fill="#ff1a1a" opacity="0.9"/><path d="M499.30 64.60V68.30" stroke="#ff1a1a" stroke-width="0.75"/>
<path d="M509.70 70.80L511.68 73.00L509.70 75.20L507.72 73.00Z" fill="#b05ce6"/>
<rect x="507.60" y="72.40" width="4.2" height="1.2" fill="#ff1a1a" opacity="0.9"/><path d="M509.70 71.20V74.90" stroke="#ff1a1a" stroke-width="0.75"/>
<path d="M522.20 81.80L524.18 84.00L522.20 86.20L520.22 84.00Z" fill="#b05ce6"/>
<rect x="520.10" y="83.40" width="4.2" height="1.2" fill="#ff1a1a" opacity="0.9"/><path d="M522.20 82.20V85.90" stroke="#ff1a1a" stroke-width="0.75"/>
<path d="M560.50 124.80L562.48 127.00L560.50 129.20L558.52 127.00Z" fill="#b05ce6"/>
<rect x="558.40" y="126.40" width="4.2" height="1.2" fill="#ff1a1a" opacity="0.9"/><path d="M560.50 125.20V128.90" stroke="#ff1a1a" stroke-width="0.75"/>
<path d="M611.00 158.50L612.98 160.70L611.00 162.90L609.02 160.70Z" fill="#b05ce6"/>
<rect x="608.90" y="160.10" width="4.2" height="1.2" fill="#ff1a1a" opacity="0.9"/><path d="M611.00 158.90V162.60" stroke="#ff1a1a" stroke-width="0.75"/>
<path d="M637.30 168.80L639.28 171.00L637.30 173.20L635.32 171.00Z" fill="#b05ce6"/>
<rect x="635.20" y="170.40" width="4.2" height="1.2" fill="#ff1a1a" opacity="0.9"/><path d="M637.30 169.20V172.90" stroke="#ff1a1a" stroke-width="0.75"/>
<path d="M650.00 169.80L651.98 172.00L650.00 174.20L648.02 172.00Z" fill="#b05ce6"/>
<rect x="647.90" y="171.40" width="4.2" height="1.2" fill="#ff1a1a" opacity="0.9"/><path d="M650.00 170.20V173.90" stroke="#ff1a1a" stroke-width="0.75"/>
<path d="M672.20 177.50L674.18 179.70L672.20 181.90L670.22 179.70Z" fill="#b05ce6"/>
<rect x="670.10" y="179.10" width="4.2" height="1.2" fill="#ff1a1a" opacity="0.9"/><path d="M672.20 177.90V181.60" stroke="#ff1a1a" stroke-width="0.75"/>
<path d="M420.00 17.80L423.96 15.60L423.96 20.00Z" fill="#d49a00"/>
<rect x="420.10" y="17.20" width="4.2" height="1.2" fill="#ff1a1a" opacity="0.9"/><path d="M422.20 16.00V19.70" stroke="#ff1a1a" stroke-width="0.75"/>
<path d="M443.00 30.90L446.96 28.70L446.96 33.10Z" fill="#d49a00"/>
<rect x="443.10" y="30.30" width="4.2" height="1.2" fill="#ff1a1a" opacity="0.9"/><path d="M445.20 29.10V32.80" stroke="#ff1a1a" stroke-width="0.75"/>
<path d="M481.50 51.00L485.46 48.80L485.46 53.20Z" fill="#d49a00"/>
<rect x="481.60" y="50.40" width="4.2" height="1.2" fill="#ff1a1a" opacity="0.9"/><path d="M483.70 49.20V52.90" stroke="#ff1a1a" stroke-width="0.75"/>
<path d="M497.10 72.10L501.06 69.90L501.06 74.30Z" fill="#d49a00"/>
<rect x="497.20" y="71.50" width="4.2" height="1.2" fill="#ff1a1a" opacity="0.9"/><path d="M499.30 70.30V74.00" stroke="#ff1a1a" stroke-width="0.75"/>
<path d="M507.50 78.00L511.46 75.80L511.46 80.20Z" fill="#d49a00"/>
<rect x="507.60" y="77.40" width="4.2" height="1.2" fill="#ff1a1a" opacity="0.9"/><path d="M509.70 76.20V79.90" stroke="#ff1a1a" stroke-width="0.75"/>
<path d="M520.00 87.00L523.96 84.80L523.96 89.20Z" fill="#d49a00"/>
<rect x="520.10" y="86.40" width="4.2" height="1.2" fill="#ff1a1a" opacity="0.9"/><path d="M522.20 85.20V88.90" stroke="#ff1a1a" stroke-width="0.75"/>
<path d="M558.30 120.50L562.26 118.30L562.26 122.70Z" fill="#d49a00"/>
<rect x="558.40" y="119.90" width="4.2" height="1.2" fill="#ff1a1a" opacity="0.9"/><path d="M560.50 118.70V122.40" stroke="#ff1a1a" stroke-width="0.75"/>
<path d="M608.80 158.00L612.76 155.80L612.76 160.20Z" fill="#d49a00"/>
<rect x="608.90" y="157.40" width="4.2" height="1.2" fill="#ff1a1a" opacity="0.9"/><path d="M611.00 156.20V159.90" stroke="#ff1a1a" stroke-width="0.75"/>
<path d="M635.10 168.50L639.06 166.30L639.06 170.70Z" fill="#d49a00"/>
<rect x="635.20" y="167.90" width="4.2" height="1.2" fill="#ff1a1a" opacity="0.9"/><path d="M637.30 166.70V170.40" stroke="#ff1a1a" stroke-width="0.75"/>
<path d="M647.80 169.50L651.76 167.30L651.76 171.70Z" fill="#d49a00"/>
<rect x="647.90" y="168.90" width="4.2" height="1.2" fill="#ff1a1a" opacity="0.9"/><path d="M650.00 167.70V171.40" stroke="#ff1a1a" stroke-width="0.75"/>
<path d="M670.00 179.40L673.96 177.20L673.96 181.60Z" fill="#d49a00"/>
<rect x="670.10" y="178.80" width="4.2" height="1.2" fill="#ff1a1a" opacity="0.9"/><path d="M672.20 177.60V181.30" stroke="#ff1a1a" stroke-width="0.75"/>
<rect x="565.40" y="1.30" width="118.70" height="60.00" fill="#fff"/>
<path d="M565.40 1.30H684.10V61.30" stroke="#cdcdcd" stroke-width="1.0" fill="none"/>
<path d="M565.40 1.30V61.30H684.10" stroke="#a6a6a6" stroke-width="1.0" fill="none"/>
<path d="M566.40 6.90H584.60" stroke="#b0b0b0" stroke-width="0.8"/>
<rect x="573.52" y="5.22" width="3.36" height="3.36" fill="#2b2b2b"/>
<text x="586.80" y="9.60" font-family='"Liberation Serif", serif' font-size="7.9" fill="#1a1a1a" stroke="#1a1a1a" stroke-width="0.18">LDPE 5% 100 nanometer Zn</text>
<path d="M566.40 16.70H584.60" stroke="#ffa8a8" stroke-width="0.8"/>
<circle cx="575.20" cy="16.70" r="1.99" fill="#f0202a"/>
<text x="586.80" y="19.40" font-family='"Liberation Serif", serif' font-size="7.9" fill="#1a1a1a" stroke="#1a1a1a" stroke-width="0.18">LDPE 5% 10 micrometer Zn</text>
<path d="M566.40 26.50H584.60" stroke="#a6c4f4" stroke-width="0.8"/>
<path d="M575.20 24.40L577.30 28.18L573.10 28.18Z" fill="#1a5fe0"/>
<text x="586.80" y="29.20" font-family='"Liberation Serif", serif' font-size="7.9" fill="#1a1a1a" stroke="#1a1a1a" stroke-width="0.18">LDPE 5% Bulk Zn</text>
<path d="M566.40 36.30H584.60" stroke="#a6dcbe" stroke-width="0.8"/>
<path d="M575.20 38.40L577.30 34.62L573.10 34.62Z" fill="#1f9a58"/>
<text x="586.80" y="39.00" font-family='"Liberation Serif", serif' font-size="7.9" fill="#1a1a1a" stroke="#1a1a1a" stroke-width="0.18">LDPE 20% 100 nanometer Zn</text>
<path d="M566.40 46.10H584.60" stroke="#dfc6f8" stroke-width="0.8"/>
<path d="M575.20 44.00L577.09 46.10L575.20 48.20L573.31 46.10Z" fill="#b05ce6"/>
<text x="586.80" y="48.80" font-family='"Liberation Serif", serif' font-size="7.9" fill="#1a1a1a" stroke="#1a1a1a" stroke-width="0.18">LDPE 20% 10 micrometer Zn</text>
<path d="M566.40 55.90H584.60" stroke="#f0d68c" stroke-width="0.8"/>
<path d="M573.10 55.90L576.88 53.80L576.88 58.00Z" fill="#d49a00"/>
<text x="586.80" y="58.60" font-family='"Liberation Serif", serif' font-size="7.9" fill="#1a1a1a" stroke="#1a1a1a" stroke-width="0.18">LDPE 20% Bulk Zn</text>
<path d="M34.50 297.00V507.40M30.50 507.40H296.00" stroke="#3a3a3a" stroke-width="1.25" fill="none"/>
<path d="M30.50 302.50H34.50" stroke="#3a3a3a" stroke-width="1.45"/>
<text x="24.70" y="306.30" font-family='"Liberation Serif", serif' font-weight="bold" font-size="8.6" text-anchor="end">2</text>
<text x="24.80" y="302.20" font-family='"Liberation Serif", serif' font-weight="bold" font-size="5.7">5</text>
<path d="M30.50 343.48H34.50" stroke="#3a3a3a" stroke-width="1.45"/>
<text x="24.70" y="347.28" font-family='"Liberation Serif", serif' font-weight="bold" font-size="8.6" text-anchor="end">2</text>
<text x="24.80" y="343.18" font-family='"Liberation Serif", serif' font-weight="bold" font-size="5.7">4</text>
<path d="M30.50 384.46H34.50" stroke="#3a3a3a" stroke-width="1.45"/>
<text x="24.70" y="388.26" font-family='"Liberation Serif", serif' font-weight="bold" font-size="8.6" text-anchor="end">2</text>
<text x="24.80" y="384.16" font-family='"Liberation Serif", serif' font-weight="bold" font-size="5.7">3</text>
<path d="M30.50 425.44H34.50" stroke="#3a3a3a" stroke-width="1.45"/>
<text x="24.70" y="429.24" font-family='"Liberation Serif", serif' font-weight="bold" font-size="8.6" text-anchor="end">2</text>
<text x="24.80" y="425.14" font-family='"Liberation Serif", serif' font-weight="bold" font-size="5.7">2</text>
<path d="M30.50 466.42H34.50" stroke="#3a3a3a" stroke-width="1.45"/>
<text x="24.70" y="470.22" font-family='"Liberation Serif", serif' font-weight="bold" font-size="8.6" text-anchor="end">2</text>
<text x="24.80" y="466.12" font-family='"Liberation Serif", serif' font-weight="bold" font-size="5.7">1</text>
<text x="24.70" y="511.20" font-family='"Liberation Serif", serif' font-weight="bold" font-size="8.6" text-anchor="end">2</text>
<text x="24.80" y="507.10" font-family='"Liberation Serif", serif' font-weight="bold" font-size="5.7">0</text>
<path d="M65.40 507.40V510.60" stroke="#3a3a3a" stroke-width="1.1"/>
<text x="65.40" y="521.60" font-family='"Liberation Serif", serif' font-weight="bold" font-size="9.0" text-anchor="middle">0.25</text>
<path d="M103.83 507.40V510.60" stroke="#3a3a3a" stroke-width="1.1"/>
<text x="103.83" y="521.60" font-family='"Liberation Serif", serif' font-weight="bold" font-size="9.0" text-anchor="middle">0.5</text>
<path d="M142.27 507.40V510.60" stroke="#3a3a3a" stroke-width="1.1"/>
<text x="142.27" y="521.60" font-family='"Liberation Serif", serif' font-weight="bold" font-size="9.0" text-anchor="middle">1</text>
<path d="M180.70 507.40V510.60" stroke="#3a3a3a" stroke-width="1.1"/>
<text x="180.70" y="521.60" font-family='"Liberation Serif", serif' font-weight="bold" font-size="9.0" text-anchor="middle">2</text>
<path d="M219.13 507.40V510.60" stroke="#3a3a3a" stroke-width="1.1"/>
<text x="219.13" y="521.60" font-family='"Liberation Serif", serif' font-weight="bold" font-size="9.0" text-anchor="middle">4</text>
<path d="M257.57 507.40V510.60" stroke="#3a3a3a" stroke-width="1.1"/>
<text x="257.57" y="521.60" font-family='"Liberation Serif", serif' font-weight="bold" font-size="9.0" text-anchor="middle">8</text>
<path d="M296.00 507.40V510.60" stroke="#3a3a3a" stroke-width="1.1"/>
<text x="296.00" y="521.60" font-family='"Liberation Serif", serif' font-weight="bold" font-size="9.0" text-anchor="middle">16</text>
<text x="165.25" y="538.20" font-family='"Liberation Serif", serif' font-weight="bold" font-size="11.0" text-anchor="middle">Energy(MeV)</text>
<text transform="translate(11.80 402.25) rotate(-90)" font-family='"Liberation Serif", serif' font-weight="bold" font-size="10.8" text-anchor="middle">RC</text>
<polyline points="42.40,303.20 65.70,319.20 103.90,346.00 119.40,358.90 129.80,368.60 142.20,380.30 180.90,421.70 231.60,453.80 257.50,462.60 270.10,466.00 292.30,474.80" fill="none" stroke="#b0b0b0" stroke-width="0.8"/>
<polyline points="42.40,308.70 65.70,323.00 103.90,358.00 119.40,363.00 129.80,372.00 142.20,383.50 180.90,426.00 231.60,455.50 257.50,463.20 270.10,472.50 292.30,476.50" fill="none" stroke="#ffa8a8" stroke-width="0.8"/>
<polyline points="42.40,312.00 65.70,326.00 103.90,358.50 119.40,368.60 129.80,375.00 142.20,384.50 180.90,428.50 231.60,456.00 257.50,463.50 270.10,468.00 292.30,476.00" fill="none" stroke="#a6c4f4" stroke-width="0.8"/>
<polyline points="42.40,306.40 65.70,321.00 103.90,346.60 119.40,360.70 129.80,370.30 142.20,381.00 180.90,422.50 231.60,454.50 257.50,462.80 270.10,466.50 292.30,475.00" fill="none" stroke="#a6dcbe" stroke-width="0.8"/>
<polyline points="42.40,310.80 65.70,325.10 103.90,358.00 119.40,366.00 129.80,374.00 142.20,384.00 180.90,428.00 231.60,457.50 257.50,467.50 270.10,472.80 292.30,477.00" fill="none" stroke="#dfc6f8" stroke-width="0.8"/>
<polyline points="42.40,315.70 65.70,327.80 103.90,359.50 119.40,369.80 129.80,375.60 142.20,385.20 180.90,430.40 231.60,458.70 257.50,468.30 270.10,473.20 292.30,477.30" fill="none" stroke="#f0d68c" stroke-width="0.8"/>
<rect x="40.64" y="301.44" width="3.52" height="3.52" fill="#2b2b2b"/>
<rect x="40.30" y="302.60" width="4.2" height="1.2" fill="#ff1a1a" opacity="0.9"/><path d="M42.40 301.40V305.10" stroke="#ff1a1a" stroke-width="0.75"/>
<rect x="63.94" y="317.44" width="3.52" height="3.52" fill="#2b2b2b"/>
<rect x="63.60" y="318.60" width="4.2" height="1.2" fill="#ff1a1a" opacity="0.9"/><path d="M65.70 317.40V321.10" stroke="#ff1a1a" stroke-width="0.75"/>
<rect x="102.14" y="344.24" width="3.52" height="3.52" fill="#2b2b2b"/>
<rect x="101.80" y="345.40" width="4.2" height="1.2" fill="#ff1a1a" opacity="0.9"/><path d="M103.90 344.20V347.90" stroke="#ff1a1a" stroke-width="0.75"/>
<rect x="117.64" y="357.14" width="3.52" height="3.52" fill="#2b2b2b"/>
<rect x="117.30" y="358.30" width="4.2" height="1.2" fill="#ff1a1a" opacity="0.9"/><path d="M119.40 357.10V360.80" stroke="#ff1a1a" stroke-width="0.75"/>
<rect x="128.04" y="366.84" width="3.52" height="3.52" fill="#2b2b2b"/>
<rect x="127.70" y="368.00" width="4.2" height="1.2" fill="#ff1a1a" opacity="0.9"/><path d="M129.80 366.80V370.50" stroke="#ff1a1a" stroke-width="0.75"/>
<rect x="140.44" y="378.54" width="3.52" height="3.52" fill="#2b2b2b"/>
<rect x="140.10" y="379.70" width="4.2" height="1.2" fill="#ff1a1a" opacity="0.9"/><path d="M142.20 378.50V382.20" stroke="#ff1a1a" stroke-width="0.75"/>
<rect x="179.14" y="419.94" width="3.52" height="3.52" fill="#2b2b2b"/>
<rect x="178.80" y="421.10" width="4.2" height="1.2" fill="#ff1a1a" opacity="0.9"/><path d="M180.90 419.90V423.60" stroke="#ff1a1a" stroke-width="0.75"/>
<rect x="229.84" y="452.04" width="3.52" height="3.52" fill="#2b2b2b"/>
<rect x="229.50" y="453.20" width="4.2" height="1.2" fill="#ff1a1a" opacity="0.9"/><path d="M231.60 452.00V455.70" stroke="#ff1a1a" stroke-width="0.75"/>
<rect x="255.74" y="460.84" width="3.52" height="3.52" fill="#2b2b2b"/>
<rect x="255.40" y="462.00" width="4.2" height="1.2" fill="#ff1a1a" opacity="0.9"/><path d="M257.50 460.80V464.50" stroke="#ff1a1a" stroke-width="0.75"/>
<rect x="268.34" y="464.24" width="3.52" height="3.52" fill="#2b2b2b"/>
<rect x="268.00" y="465.40" width="4.2" height="1.2" fill="#ff1a1a" opacity="0.9"/><path d="M270.10 464.20V467.90" stroke="#ff1a1a" stroke-width="0.75"/>
<rect x="290.54" y="473.04" width="3.52" height="3.52" fill="#2b2b2b"/>
<rect x="290.20" y="474.20" width="4.2" height="1.2" fill="#ff1a1a" opacity="0.9"/><path d="M292.30 473.00V476.70" stroke="#ff1a1a" stroke-width="0.75"/>
<circle cx="42.40" cy="308.70" r="2.09" fill="#f0202a"/>
<rect x="40.30" y="308.10" width="4.2" height="1.2" fill="#ff1a1a" opacity="0.9"/><path d="M42.40 306.90V310.60" stroke="#ff1a1a" stroke-width="0.75"/>
<circle cx="65.70" cy="323.00" r="2.09" fill="#f0202a"/>
<rect x="63.60" y="322.40" width="4.2" height="1.2" fill="#ff1a1a" opacity="0.9"/><path d="M65.70 321.20V324.90" stroke="#ff1a1a" stroke-width="0.75"/>
<circle cx="103.90" cy="358.00" r="2.09" fill="#f0202a"/>
<rect x="101.80" y="357.40" width="4.2" height="1.2" fill="#ff1a1a" opacity="0.9"/><path d="M103.90 356.20V359.90" stroke="#ff1a1a" stroke-width="0.75"/>
<circle cx="119.40" cy="363.00" r="2.09" fill="#f0202a"/>
<rect x="117.30" y="362.40" width="4.2" height="1.2" fill="#ff1a1a" opacity="0.9"/><path d="M119.40 361.20V364.90" stroke="#ff1a1a" stroke-width="0.75"/>
<circle cx="129.80" cy="372.00" r="2.09" fill="#f0202a"/>
<rect x="127.70" y="371.40" width="4.2" height="1.2" fill="#ff1a1a" opacity="0.9"/><path d="M129.80 370.20V373.90" stroke="#ff1a1a" stroke-width="0.75"/>
<circle cx="142.20" cy="383.50" r="2.09" fill="#f0202a"/>
<rect x="140.10" y="382.90" width="4.2" height="1.2" fill="#ff1a1a" opacity="0.9"/><path d="M142.20 381.70V385.40" stroke="#ff1a1a" stroke-width="0.75"/>
<circle cx="180.90" cy="426.00" r="2.09" fill="#f0202a"/>
<rect x="178.80" y="425.40" width="4.2" height="1.2" fill="#ff1a1a" opacity="0.9"/><path d="M180.90 424.20V427.90" stroke="#ff1a1a" stroke-width="0.75"/>
<circle cx="231.60" cy="455.50" r="2.09" fill="#f0202a"/>
<rect x="229.50" y="454.90" width="4.2" height="1.2" fill="#ff1a1a" opacity="0.9"/><path d="M231.60 453.70V457.40" stroke="#ff1a1a" stroke-width="0.75"/>
<circle cx="257.50" cy="463.20" r="2.09" fill="#f0202a"/>
<rect x="255.40" y="462.60" width="4.2" height="1.2" fill="#ff1a1a" opacity="0.9"/><path d="M257.50 461.40V465.10" stroke="#ff1a1a" stroke-width="0.75"/>
<circle cx="270.10" cy="472.50" r="2.09" fill="#f0202a"/>
<rect x="268.00" y="471.90" width="4.2" height="1.2" fill="#ff1a1a" opacity="0.9"/><path d="M270.10 470.70V474.40" stroke="#ff1a1a" stroke-width="0.75"/>
<circle cx="292.30" cy="476.50" r="2.09" fill="#f0202a"/>
<rect x="290.20" y="475.90" width="4.2" height="1.2" fill="#ff1a1a" opacity="0.9"/><path d="M292.30 474.70V478.40" stroke="#ff1a1a" stroke-width="0.75"/>
<path d="M42.40 309.80L44.60 313.76L40.20 313.76Z" fill="#1a5fe0"/>
<rect x="40.30" y="311.40" width="4.2" height="1.2" fill="#ff1a1a" opacity="0.9"/><path d="M42.40 310.20V313.90" stroke="#ff1a1a" stroke-width="0.75"/>
<path d="M65.70 323.80L67.90 327.76L63.50 327.76Z" fill="#1a5fe0"/>
<rect x="63.60" y="325.40" width="4.2" height="1.2" fill="#ff1a1a" opacity="0.9"/><path d="M65.70 324.20V327.90" stroke="#ff1a1a" stroke-width="0.75"/>
<path d="M103.90 356.30L106.10 360.26L101.70 360.26Z" fill="#1a5fe0"/>
<rect x="101.80" y="357.90" width="4.2" height="1.2" fill="#ff1a1a" opacity="0.9"/><path d="M103.90 356.70V360.40" stroke="#ff1a1a" stroke-width="0.75"/>
<path d="M119.40 366.40L121.60 370.36L117.20 370.36Z" fill="#1a5fe0"/>
<rect x="117.30" y="368.00" width="4.2" height="1.2" fill="#ff1a1a" opacity="0.9"/><path d="M119.40 366.80V370.50" stroke="#ff1a1a" stroke-width="0.75"/>
<path d="M129.80 372.80L132.00 376.76L127.60 376.76Z" fill="#1a5fe0"/>
<rect x="127.70" y="374.40" width="4.2" height="1.2" fill="#ff1a1a" opacity="0.9"/><path d="M129.80 373.20V376.90" stroke="#ff1a1a" stroke-width="0.75"/>
<path d="M142.20 382.30L144.40 386.26L140.00 386.26Z" fill="#1a5fe0"/>
<rect x="140.10" y="383.90" width="4.2" height="1.2" fill="#ff1a1a" opacity="0.9"/><path d="M142.20 382.70V386.40" stroke="#ff1a1a" stroke-width="0.75"/>
<path d="M180.90 426.30L183.10 430.26L178.70 430.26Z" fill="#1a5fe0"/>
<rect x="178.80" y="427.90" width="4.2" height="1.2" fill="#ff1a1a" opacity="0.9"/><path d="M180.90 426.70V430.40" stroke="#ff1a1a" stroke-width="0.75"/>
<path d="M231.60 453.80L233.80 457.76L229.40 457.76Z" fill="#1a5fe0"/>
<rect x="229.50" y="455.40" width="4.2" height="1.2" fill="#ff1a1a" opacity="0.9"/><path d="M231.60 454.20V457.90" stroke="#ff1a1a" stroke-width="0.75"/>
<path d="M257.50 461.30L259.70 465.26L255.30 465.26Z" fill="#1a5fe0"/>
<rect x="255.40" y="462.90" width="4.2" height="1.2" fill="#ff1a1a" opacity="0.9"/><path d="M257.50 461.70V465.40" stroke="#ff1a1a" stroke-width="0.75"/>
<path d="M270.10 465.80L272.30 469.76L267.90 469.76Z" fill="#1a5fe0"/>
<rect x="268.00" y="467.40" width="4.2" height="1.2" fill="#ff1a1a" opacity="0.9"/><path d="M270.10 466.20V469.90" stroke="#ff1a1a" stroke-width="0.75"/>
<path d="M292.30 473.80L294.50 477.76L290.10 477.76Z" fill="#1a5fe0"/>
<rect x="290.20" y="475.40" width="4.2" height="1.2" fill="#ff1a1a" opacity="0.9"/><path d="M292.30 474.20V477.90" stroke="#ff1a1a" stroke-width="0.75"/>
<path d="M42.40 308.60L44.60 304.64L40.20 304.64Z" fill="#1f9a58"/>
<rect x="40.30" y="305.80" width="4.2" height="1.2" fill="#ff1a1a" opacity="0.9"/><path d="M42.40 304.60V308.30" stroke="#ff1a1a" stroke-width="0.75"/>
<path d="M65.70 323.20L67.90 319.24L63.50 319.24Z" fill="#1f9a58"/>
<rect x="63.60" y="320.40" width="4.2" height="1.2" fill="#ff1a1a" opacity="0.9"/><path d="M65.70 319.20V322.90" stroke="#ff1a1a" stroke-width="0.75"/>
<path d="M103.90 348.80L106.10 344.84L101.70 344.84Z" fill="#1f9a58"/>
<rect x="101.80" y="346.00" width="4.2" height="1.2" fill="#ff1a1a" opacity="0.9"/><path d="M103.90 344.80V348.50" stroke="#ff1a1a" stroke-width="0.75"/>
<path d="M119.40 362.90L121.60 358.94L117.20 358.94Z" fill="#1f9a58"/>
<rect x="117.30" y="360.10" width="4.2" height="1.2" fill="#ff1a1a" opacity="0.9"/><path d="M119.40 358.90V362.60" stroke="#ff1a1a" stroke-width="0.75"/>
<path d="M129.80 372.50L132.00 368.54L127.60 368.54Z" fill="#1f9a58"/>
<rect x="127.70" y="369.70" width="4.2" height="1.2" fill="#ff1a1a" opacity="0.9"/><path d="M129.80 368.50V372.20" stroke="#ff1a1a" stroke-width="0.75"/>
<path d="M142.20 383.20L144.40 379.24L140.00 379.24Z" fill="#1f9a58"/>
<rect x="140.10" y="380.40" width="4.2" height="1.2" fill="#ff1a1a" opacity="0.9"/><path d="M142.20 379.20V382.90" stroke="#ff1a1a" stroke-width="0.75"/>
<path d="M180.90 424.70L183.10 420.74L178.70 420.74Z" fill="#1f9a58"/>
<rect x="178.80" y="421.90" width="4.2" height="1.2" fill="#ff1a1a" opacity="0.9"/><path d="M180.90 420.70V424.40" stroke="#ff1a1a" stroke-width="0.75"/>
<path d="M231.60 456.70L233.80 452.74L229.40 452.74Z" fill="#1f9a58"/>
<rect x="229.50" y="453.90" width="4.2" height="1.2" fill="#ff1a1a" opacity="0.9"/><path d="M231.60 452.70V456.40" stroke="#ff1a1a" stroke-width="0.75"/>
<path d="M257.50 465.00L259.70 461.04L255.30 461.04Z" fill="#1f9a58"/>
<rect x="255.40" y="462.20" width="4.2" height="1.2" fill="#ff1a1a" opacity="0.9"/><path d="M257.50 461.00V464.70" stroke="#ff1a1a" stroke-width="0.75"/>
<path d="M270.10 468.70L272.30 464.74L267.90 464.74Z" fill="#1f9a58"/>
<rect x="268.00" y="465.90" width="4.2" height="1.2" fill="#ff1a1a" opacity="0.9"/><path d="M270.10 464.70V468.40" stroke="#ff1a1a" stroke-width="0.75"/>
<path d="M292.30 477.20L294.50 473.24L290.10 473.24Z" fill="#1f9a58"/>
<rect x="290.20" y="474.40" width="4.2" height="1.2" fill="#ff1a1a" opacity="0.9"/><path d="M292.30 473.20V476.90" stroke="#ff1a1a" stroke-width="0.75"/>
<path d="M42.40 308.60L44.38 310.80L42.40 313.00L40.42 310.80Z" fill="#b05ce6"/>
<rect x="40.30" y="310.20" width="4.2" height="1.2" fill="#ff1a1a" opacity="0.9"/><path d="M42.40 309.00V312.70" stroke="#ff1a1a" stroke-width="0.75"/>
<path d="M65.70 322.90L67.68 325.10L65.70 327.30L63.72 325.10Z" fill="#b05ce6"/>
<rect x="63.60" y="324.50" width="4.2" height="1.2" fill="#ff1a1a" opacity="0.9"/><path d="M65.70 323.30V327.00" stroke="#ff1a1a" stroke-width="0.75"/>
<path d="M103.90 355.80L105.88 358.00L103.90 360.20L101.92 358.00Z" fill="#b05ce6"/>
<rect x="101.80" y="357.40" width="4.2" height="1.2" fill="#ff1a1a" opacity="0.9"/><path d="M103.90 356.20V359.90" stroke="#ff1a1a" stroke-width="0.75"/>
<path d="M119.40 363.80L121.38 366.00L119.40 368.20L117.42 366.00Z" fill="#b05ce6"/>
<rect x="117.30" y="365.40" width="4.2" height="1.2" fill="#ff1a1a" opacity="0.9"/><path d="M119.40 364.20V367.90" stroke="#ff1a1a" stroke-width="0.75"/>
<path d="M129.80 371.80L131.78 374.00L129.80 376.20L127.82 374.00Z" fill="#b05ce6"/>
<rect x="127.70" y="373.40" width="4.2" height="1.2" fill="#ff1a1a" opacity="0.9"/><path d="M129.80 372.20V375.90" stroke="#ff1a1a" stroke-width="0.75"/>
<path d="M142.20 381.80L144.18 384.00L142.20 386.20L140.22 384.00Z" fill="#b05ce6"/>
<rect x="140.10" y="383.40" width="4.2" height="1.2" fill="#ff1a1a" opacity="0.9"/><path d="M142.20 382.20V385.90" stroke="#ff1a1a" stroke-width="0.75"/>
<path d="M180.90 425.80L182.88 428.00L180.90 430.20L178.92 428.00Z" fill="#b05ce6"/>
<rect x="178.80" y="427.40" width="4.2" height="1.2" fill="#ff1a1a" opacity="0.9"/><path d="M180.90 426.20V429.90" stroke="#ff1a1a" stroke-width="0.75"/>
<path d="M231.60 455.30L233.58 457.50L231.60 459.70L229.62 457.50Z" fill="#b05ce6"/>
<rect x="229.50" y="456.90" width="4.2" height="1.2" fill="#ff1a1a" opacity="0.9"/><path d="M231.60 455.70V459.40" stroke="#ff1a1a" stroke-width="0.75"/>
<path d="M257.50 465.30L259.48 467.50L257.50 469.70L255.52 467.50Z" fill="#b05ce6"/>
<rect x="255.40" y="466.90" width="4.2" height="1.2" fill="#ff1a1a" opacity="0.9"/><path d="M257.50 465.70V469.40" stroke="#ff1a1a" stroke-width="0.75"/>
<path d="M270.10 470.60L272.08 472.80L270.10 475.00L268.12 472.80Z" fill="#b05ce6"/>
<rect x="268.00" y="472.20" width="4.2" height="1.2" fill="#ff1a1a" opacity="0.9"/><path d="M270.10 471.00V474.70" stroke="#ff1a1a" stroke-width="0.75"/>
<path d="M292.30 474.80L294.28 477.00L292.30 479.20L290.32 477.00Z" fill="#b05ce6"/>
<rect x="290.20" y="476.40" width="4.2" height="1.2" fill="#ff1a1a" opacity="0.9"/><path d="M292.30 475.20V478.90" stroke="#ff1a1a" stroke-width="0.75"/>
<path d="M40.20 315.70L44.16 313.50L44.16 317.90Z" fill="#d49a00"/>
<rect x="40.30" y="315.10" width="4.2" height="1.2" fill="#ff1a1a" opacity="0.9"/><path d="M42.40 313.90V317.60" stroke="#ff1a1a" stroke-width="0.75"/>
<path d="M63.50 327.80L67.46 325.60L67.46 330.00Z" fill="#d49a00"/>
<rect x="63.60" y="327.20" width="4.2" height="1.2" fill="#ff1a1a" opacity="0.9"/><path d="M65.70 326.00V329.70" stroke="#ff1a1a" stroke-width="0.75"/>
<path d="M101.70 359.50L105.66 357.30L105.66 361.70Z" fill="#d49a00"/>
<rect x="101.80" y="358.90" width="4.2" height="1.2" fill="#ff1a1a" opacity="0.9"/><path d="M103.90 357.70V361.40" stroke="#ff1a1a" stroke-width="0.75"/>
<path d="M117.20 369.80L121.16 367.60L121.16 372.00Z" fill="#d49a00"/>
<rect x="117.30" y="369.20" width="4.2" height="1.2" fill="#ff1a1a" opacity="0.9"/><path d="M119.40 368.00V371.70" stroke="#ff1a1a" stroke-width="0.75"/>
<path d="M127.60 375.60L131.56 373.40L131.56 377.80Z" fill="#d49a00"/>
<rect x="127.70" y="375.00" width="4.2" height="1.2" fill="#ff1a1a" opacity="0.9"/><path d="M129.80 373.80V377.50" stroke="#ff1a1a" stroke-width="0.75"/>
<path d="M140.00 385.20L143.96 383.00L143.96 387.40Z" fill="#d49a00"/>
<rect x="140.10" y="384.60" width="4.2" height="1.2" fill="#ff1a1a" opacity="0.9"/><path d="M142.20 383.40V387.10" stroke="#ff1a1a" stroke-width="0.75"/>
<path d="M178.70 430.40L182.66 428.20L182.66 432.60Z" fill="#d49a00"/>
<rect x="178.80" y="429.80" width="4.2" height="1.2" fill="#ff1a1a" opacity="0.9"/><path d="M180.90 428.60V432.30" stroke="#ff1a1a" stroke-width="0.75"/>
<path d="M229.40 458.70L233.36 456.50L233.36 460.90Z" fill="#d49a00"/>
<rect x="229.50" y="458.10" width="4.2" height="1.2" fill="#ff1a1a" opacity="0.9"/><path d="M231.60 456.90V460.60" stroke="#ff1a1a" stroke-width="0.75"/>
<path d="M255.30 468.30L259.26 466.10L259.26 470.50Z" fill="#d49a00"/>
<rect x="255.40" y="467.70" width="4.2" height="1.2" fill="#ff1a1a" opacity="0.9"/><path d="M257.50 466.50V470.20" stroke="#ff1a1a" stroke-width="0.75"/>
<path d="M267.90 473.20L271.86 471.00L271.86 475.40Z" fill="#d49a00"/>
<rect x="268.00" y="472.60" width="4.2" height="1.2" fill="#ff1a1a" opacity="0.9"/><path d="M270.10 471.40V475.10" stroke="#ff1a1a" stroke-width="0.75"/>
<path d="M290.10 477.30L294.06 475.10L294.06 479.50Z" fill="#d49a00"/>
<rect x="290.20" y="476.70" width="4.2" height="1.2" fill="#ff1a1a" opacity="0.9"/><path d="M292.30 475.50V479.20" stroke="#ff1a1a" stroke-width="0.75"/>
<rect x="186.30" y="297.80" width="118.20" height="59.80" fill="#fff"/>
<path d="M186.30 297.80H304.50V357.60" stroke="#cdcdcd" stroke-width="1.0" fill="none"/>
<path d="M186.30 297.80V357.60H304.50" stroke="#a6a6a6" stroke-width="1.0" fill="none"/>
<path d="M187.30 303.40H205.50" stroke="#b0b0b0" stroke-width="0.8"/>
<rect x="194.42" y="301.72" width="3.36" height="3.36" fill="#2b2b2b"/>
<text x="207.70" y="306.10" font-family='"Liberation Serif", serif' font-size="7.9" fill="#1a1a1a" stroke="#1a1a1a" stroke-width="0.18">LDPE 20% 100 nanometer Pb</text>
<path d="M187.30 313.20H205.50" stroke="#ffa8a8" stroke-width="0.8"/>
<circle cx="196.10" cy="313.20" r="1.99" fill="#f0202a"/>
<text x="207.70" y="315.90" font-family='"Liberation Serif", serif' font-size="7.9" fill="#1a1a1a" stroke="#1a1a1a" stroke-width="0.18">LDPE 20% 10 micrometer Pb</text>
<path d="M187.30 323.00H205.50" stroke="#a6c4f4" stroke-width="0.8"/>
<path d="M196.10 320.90L198.20 324.68L194.00 324.68Z" fill="#1a5fe0"/>
<text x="207.70" y="325.70" font-family='"Liberation Serif", serif' font-size="7.9" fill="#1a1a1a" stroke="#1a1a1a" stroke-width="0.18">LDPE 20% Bulk Pb</text>
<path d="M187.30 332.80H205.50" stroke="#a6dcbe" stroke-width="0.8"/>
<path d="M196.10 334.90L198.20 331.12L194.00 331.12Z" fill="#1f9a58"/>
<text x="207.70" y="335.50" font-family='"Liberation Serif", serif' font-size="7.9" fill="#1a1a1a" stroke="#1a1a1a" stroke-width="0.18">LDPE 5% 100 nanometer Pb</text>
<path d="M187.30 342.60H205.50" stroke="#dfc6f8" stroke-width="0.8"/>
<path d="M196.10 340.50L197.99 342.60L196.10 344.70L194.21 342.60Z" fill="#b05ce6"/>
<text x="207.70" y="345.30" font-family='"Liberation Serif", serif' font-size="7.9" fill="#1a1a1a" stroke="#1a1a1a" stroke-width="0.18">LDPE 5% 10 micrometer Pb</text>
<path d="M187.30 352.40H205.50" stroke="#f0d68c" stroke-width="0.8"/>
<path d="M194.00 352.40L197.78 350.30L197.78 354.50Z" fill="#d49a00"/>
<text x="207.70" y="355.10" font-family='"Liberation Serif", serif' font-size="7.9" fill="#1a1a1a" stroke="#1a1a1a" stroke-width="0.18">LDPE 5% Bulk Pb</text>
<path d="M417.40 300.50V509.40M413.40 509.40H676.30" stroke="#4a4a4a" stroke-width="1.25" fill="none"/>
<path d="M413.40 306.00H417.40" stroke="#4a4a4a" stroke-width="1.45"/>
<text x="407.60" y="309.80" font-family='"Liberation Serif", serif' font-weight="bold" font-size="8.6" text-anchor="end">2</text>
<text x="407.70" y="305.70" font-family='"Liberation Serif", serif' font-weight="bold" font-size="5.7">5</text>
<path d="M413.40 346.68H417.40" stroke="#4a4a4a" stroke-width="1.45"/>
<text x="407.60" y="350.48" font-family='"Liberation Serif", serif' font-weight="bold" font-size="8.6" text-anchor="end">2</text>
<text x="407.70" y="346.38" font-family='"Liberation Serif", serif' font-weight="bold" font-size="5.7">4</text>
<path d="M413.40 387.36H417.40" stroke="#4a4a4a" stroke-width="1.45"/>
<text x="407.60" y="391.16" font-family='"Liberation Serif", serif' font-weight="bold" font-size="8.6" text-anchor="end">2</text>
<text x="407.70" y="387.06" font-family='"Liberation Serif", serif' font-weight="bold" font-size="5.7">3</text>
<path d="M413.40 428.04H417.40" stroke="#4a4a4a" stroke-width="1.45"/>
<text x="407.60" y="431.84" font-family='"Liberation Serif", serif' font-weight="bold" font-size="8.6" text-anchor="end">2</text>
<text x="407.70" y="427.74" font-family='"Liberation Serif", serif' font-weight="bold" font-size="5.7">2</text>
<path d="M413.40 468.72H417.40" stroke="#4a4a4a" stroke-width="1.45"/>
<text x="407.60" y="472.52" font-family='"Liberation Serif", serif' font-weight="bold" font-size="8.6" text-anchor="end">2</text>
<text x="407.70" y="468.42" font-family='"Liberation Serif", serif' font-weight="bold" font-size="5.7">1</text>
<text x="407.60" y="513.20" font-family='"Liberation Serif", serif' font-weight="bold" font-size="8.6" text-anchor="end">2</text>
<text x="407.70" y="509.10" font-family='"Liberation Serif", serif' font-weight="bold" font-size="5.7">0</text>
<path d="M448.20 509.40V512.60" stroke="#4a4a4a" stroke-width="1.1"/>
<text x="448.20" y="523.60" font-family='"Liberation Serif", serif' font-weight="bold" font-size="9.0" text-anchor="middle">0.25</text>
<path d="M486.22 509.40V512.60" stroke="#4a4a4a" stroke-width="1.1"/>
<text x="486.22" y="523.60" font-family='"Liberation Serif", serif' font-weight="bold" font-size="9.0" text-anchor="middle">0.5</text>
<path d="M524.23 509.40V512.60" stroke="#4a4a4a" stroke-width="1.1"/>
<text x="524.23" y="523.60" font-family='"Liberation Serif", serif' font-weight="bold" font-size="9.0" text-anchor="middle">1</text>
<path d="M562.25 509.40V512.60" stroke="#4a4a4a" stroke-width="1.1"/>
<text x="562.25" y="523.60" font-family='"Liberation Serif", serif' font-weight="bold" font-size="9.0" text-anchor="middle">2</text>
<path d="M600.27 509.40V512.60" stroke="#4a4a4a" stroke-width="1.1"/>
<text x="600.27" y="523.60" font-family='"Liberation Serif", serif' font-weight="bold" font-size="9.0" text-anchor="middle">4</text>
<path d="M638.28 509.40V512.60" stroke="#4a4a4a" stroke-width="1.1"/>
<text x="638.28" y="523.60" font-family='"Liberation Serif", serif' font-weight="bold" font-size="9.0" text-anchor="middle">8</text>
<path d="M676.30 509.40V512.60" stroke="#4a4a4a" stroke-width="1.1"/>
<text x="676.30" y="523.60" font-family='"Liberation Serif", serif' font-weight="bold" font-size="9.0" text-anchor="middle">16</text>
<text x="546.85" y="540.20" font-family='"Liberation Serif", serif' font-weight="bold" font-size="11.0" text-anchor="middle">Energy(MeV)</text>
<text transform="translate(394.70 405.00) rotate(-90)" font-family='"Liberation Serif", serif' font-weight="bold" font-size="10.8" text-anchor="middle">RC</text>
<polyline points="425.00,307.00 448.10,325.10 486.30,349.30 501.70,362.00 512.10,370.20 524.30,383.50 562.10,423.20 612.70,454.50 638.00,466.00 650.80,469.00 672.90,476.20" fill="none" stroke="#b0b0b0" stroke-width="0.8"/>
<polyline points="425.00,312.00 448.10,327.30 486.30,366.00 501.70,365.40 512.10,373.70 524.30,386.50 562.10,425.50 612.70,456.00 638.00,468.00 650.80,469.50 672.90,477.50" fill="none" stroke="#ffa8a8" stroke-width="0.8"/>
<polyline points="425.00,317.30 448.10,333.00 486.30,369.00 501.70,367.60 512.10,375.50 524.30,387.50 562.10,426.50 612.70,456.50 638.00,468.50 650.80,469.60 672.90,478.00" fill="none" stroke="#a6c4f4" stroke-width="0.8"/>
<polyline points="425.00,311.80 448.10,326.00 486.30,350.80 501.70,363.70 512.10,371.60 524.30,384.50 562.10,424.00 612.70,455.00 638.00,466.50 650.80,469.20 672.90,476.50" fill="none" stroke="#a6dcbe" stroke-width="0.8"/>
<polyline points="425.00,315.50 448.10,332.20 486.30,363.70 501.70,366.00 512.10,375.00 524.30,387.00 562.10,426.00 612.70,456.50 638.00,468.50 650.80,469.60 672.90,478.00" fill="none" stroke="#dfc6f8" stroke-width="0.8"/>
<polyline points="425.00,319.40 448.10,334.40 486.30,366.50 501.70,368.00 512.10,376.00 524.30,388.20 562.10,427.50 612.70,457.40 638.00,469.40 650.80,469.80 672.90,479.00" fill="none" stroke="#f0d68c" stroke-width="0.8"/>
<rect x="423.24" y="305.24" width="3.52" height="3.52" fill="#2b2b2b"/>
<rect x="422.90" y="306.40" width="4.2" height="1.2" fill="#ff1a1a" opacity="0.9"/><path d="M425.00 305.20V308.90" stroke="#ff1a1a" stroke-width="0.75"/>
<rect x="446.34" y="323.34" width="3.52" height="3.52" fill="#2b2b2b"/>
<rect x="446.00" y="324.50" width="4.2" height="1.2" fill="#ff1a1a" opacity="0.9"/><path d="M448.10 323.30V327.00" stroke="#ff1a1a" stroke-width="0.75"/>
<rect x="484.54" y="347.54" width="3.52" height="3.52" fill="#2b2b2b"/>
<rect x="484.20" y="348.70" width="4.2" height="1.2" fill="#ff1a1a" opacity="0.9"/><path d="M486.30 347.50V351.20" stroke="#ff1a1a" stroke-width="0.75"/>
<rect x="499.94" y="360.24" width="3.52" height="3.52" fill="#2b2b2b"/>
<rect x="499.60" y="361.40" width="4.2" height="1.2" fill="#ff1a1a" opacity="0.9"/><path d="M501.70 360.20V363.90" stroke="#ff1a1a" stroke-width="0.75"/>
<rect x="510.34" y="368.44" width="3.52" height="3.52" fill="#2b2b2b"/>
<rect x="510.00" y="369.60" width="4.2" height="1.2" fill="#ff1a1a" opacity="0.9"/><path d="M512.10 368.40V372.10" stroke="#ff1a1a" stroke-width="0.75"/>
<rect x="522.54" y="381.74" width="3.52" height="3.52" fill="#2b2b2b"/>
<rect x="522.20" y="382.90" width="4.2" height="1.2" fill="#ff1a1a" opacity="0.9"/><path d="M524.30 381.70V385.40" stroke="#ff1a1a" stroke-width="0.75"/>
<rect x="560.34" y="421.44" width="3.52" height="3.52" fill="#2b2b2b"/>
<rect x="560.00" y="422.60" width="4.2" height="1.2" fill="#ff1a1a" opacity="0.9"/><path d="M562.10 421.40V425.10" stroke="#ff1a1a" stroke-width="0.75"/>
<rect x="610.94" y="452.74" width="3.52" height="3.52" fill="#2b2b2b"/>
<rect x="610.60" y="453.90" width="4.2" height="1.2" fill="#ff1a1a" opacity="0.9"/><path d="M612.70 452.70V456.40" stroke="#ff1a1a" stroke-width="0.75"/>
<rect x="636.24" y="464.24" width="3.52" height="3.52" fill="#2b2b2b"/>
<rect x="635.90" y="465.40" width="4.2" height="1.2" fill="#ff1a1a" opacity="0.9"/><path d="M638.00 464.20V467.90" stroke="#ff1a1a" stroke-width="0.75"/>
<rect x="649.04" y="467.24" width="3.52" height="3.52" fill="#2b2b2b"/>
<rect x="648.70" y="468.40" width="4.2" height="1.2" fill="#ff1a1a" opacity="0.9"/><path d="M650.80 467.20V470.90" stroke="#ff1a1a" stroke-width="0.75"/>
<rect x="671.14" y="474.44" width="3.52" height="3.52" fill="#2b2b2b"/>
<rect x="670.80" y="475.60" width="4.2" height="1.2" fill="#ff1a1a" opacity="0.9"/><path d="M672.90 474.40V478.10" stroke="#ff1a1a" stroke-width="0.75"/>
<circle cx="425.00" cy="312.00" r="2.09" fill="#f0202a"/>
<rect x="422.90" y="311.40" width="4.2" height="1.2" fill="#ff1a1a" opacity="0.9"/><path d="M425.00 310.20V313.90" stroke="#ff1a1a" stroke-width="0.75"/>
<circle cx="448.10" cy="327.30" r="2.09" fill="#f0202a"/>
<rect x="446.00" y="326.70" width="4.2" height="1.2" fill="#ff1a1a" opacity="0.9"/><path d="M448.10 325.50V329.20" stroke="#ff1a1a" stroke-width="0.75"/>
<circle cx="486.30" cy="366.00" r="2.09" fill="#f0202a"/>
<rect x="484.20" y="365.40" width="4.2" height="1.2" fill="#ff1a1a" opacity="0.9"/><path d="M486.30 364.20V367.90" stroke="#ff1a1a" stroke-width="0.75"/>
<circle cx="501.70" cy="365.40" r="2.09" fill="#f0202a"/>
<rect x="499.60" y="364.80" width="4.2" height="1.2" fill="#ff1a1a" opacity="0.9"/><path d="M501.70 363.60V367.30" stroke="#ff1a1a" stroke-width="0.75"/>
<circle cx="512.10" cy="373.70" r="2.09" fill="#f0202a"/>
<rect x="510.00" y="373.10" width="4.2" height="1.2" fill="#ff1a1a" opacity="0.9"/><path d="M512.10 371.90V375.60" stroke="#ff1a1a" stroke-width="0.75"/>
<circle cx="524.30" cy="386.50" r="2.09" fill="#f0202a"/>
<rect x="522.20" y="385.90" width="4.2" height="1.2" fill="#ff1a1a" opacity="0.9"/><path d="M524.30 384.70V388.40" stroke="#ff1a1a" stroke-width="0.75"/>
<circle cx="562.10" cy="425.50" r="2.09" fill="#f0202a"/>
<rect x="560.00" y="424.90" width="4.2" height="1.2" fill="#ff1a1a" opacity="0.9"/><path d="M562.10 423.70V427.40" stroke="#ff1a1a" stroke-width="0.75"/>
<circle cx="612.70" cy="456.00" r="2.09" fill="#f0202a"/>
<rect x="610.60" y="455.40" width="4.2" height="1.2" fill="#ff1a1a" opacity="0.9"/><path d="M612.70 454.20V457.90" stroke="#ff1a1a" stroke-width="0.75"/>
<circle cx="638.00" cy="468.00" r="2.09" fill="#f0202a"/>
<rect x="635.90" y="467.40" width="4.2" height="1.2" fill="#ff1a1a" opacity="0.9"/><path d="M638.00 466.20V469.90" stroke="#ff1a1a" stroke-width="0.75"/>
<circle cx="650.80" cy="469.50" r="2.09" fill="#f0202a"/>
<rect x="648.70" y="468.90" width="4.2" height="1.2" fill="#ff1a1a" opacity="0.9"/><path d="M650.80 467.70V471.40" stroke="#ff1a1a" stroke-width="0.75"/>
<circle cx="672.90" cy="477.50" r="2.09" fill="#f0202a"/>
<rect x="670.80" y="476.90" width="4.2" height="1.2" fill="#ff1a1a" opacity="0.9"/><path d="M672.90 475.70V479.40" stroke="#ff1a1a" stroke-width="0.75"/>
<path d="M425.00 315.10L427.20 319.06L422.80 319.06Z" fill="#1a5fe0"/>
<rect x="422.90" y="316.70" width="4.2" height="1.2" fill="#ff1a1a" opacity="0.9"/><path d="M425.00 315.50V319.20" stroke="#ff1a1a" stroke-width="0.75"/>
<path d="M448.10 330.80L450.30 334.76L445.90 334.76Z" fill="#1a5fe0"/>
<rect x="446.00" y="332.40" width="4.2" height="1.2" fill="#ff1a1a" opacity="0.9"/><path d="M448.10 331.20V334.90" stroke="#ff1a1a" stroke-width="0.75"/>
<path d="M486.30 366.80L488.50 370.76L484.10 370.76Z" fill="#1a5fe0"/>
<rect x="484.20" y="368.40" width="4.2" height="1.2" fill="#ff1a1a" opacity="0.9"/><path d="M486.30 367.20V370.90" stroke="#ff1a1a" stroke-width="0.75"/>
<path d="M501.70 365.40L503.90 369.36L499.50 369.36Z" fill="#1a5fe0"/>
<rect x="499.60" y="367.00" width="4.2" height="1.2" fill="#ff1a1a" opacity="0.9"/><path d="M501.70 365.80V369.50" stroke="#ff1a1a" stroke-width="0.75"/>
<path d="M512.10 373.30L514.30 377.26L509.90 377.26Z" fill="#1a5fe0"/>
<rect x="510.00" y="374.90" width="4.2" height="1.2" fill="#ff1a1a" opacity="0.9"/><path d="M512.10 373.70V377.40" stroke="#ff1a1a" stroke-width="0.75"/>
<path d="M524.30 385.30L526.50 389.26L522.10 389.26Z" fill="#1a5fe0"/>
<rect x="522.20" y="386.90" width="4.2" height="1.2" fill="#ff1a1a" opacity="0.9"/><path d="M524.30 385.70V389.40" stroke="#ff1a1a" stroke-width="0.75"/>
<path d="M562.10 424.30L564.30 428.26L559.90 428.26Z" fill="#1a5fe0"/>
<rect x="560.00" y="425.90" width="4.2" height="1.2" fill="#ff1a1a" opacity="0.9"/><path d="M562.10 424.70V428.40" stroke="#ff1a1a" stroke-width="0.75"/>
<path d="M612.70 454.30L614.90 458.26L610.50 458.26Z" fill="#1a5fe0"/>
<rect x="610.60" y="455.90" width="4.2" height="1.2" fill="#ff1a1a" opacity="0.9"/><path d="M612.70 454.70V458.40" stroke="#ff1a1a" stroke-width="0.75"/>
<path d="M638.00 466.30L640.20 470.26L635.80 470.26Z" fill="#1a5fe0"/>
<rect x="635.90" y="467.90" width="4.2" height="1.2" fill="#ff1a1a" opacity="0.9"/><path d="M638.00 466.70V470.40" stroke="#ff1a1a" stroke-width="0.75"/>
<path d="M650.80 467.40L653.00 471.36L648.60 471.36Z" fill="#1a5fe0"/>
<rect x="648.70" y="469.00" width="4.2" height="1.2" fill="#ff1a1a" opacity="0.9"/><path d="M650.80 467.80V471.50" stroke="#ff1a1a" stroke-width="0.75"/>
<path d="M672.90 475.80L675.10 479.76L670.70 479.76Z" fill="#1a5fe0"/>
<rect x="670.80" y="477.40" width="4.2" height="1.2" fill="#ff1a1a" opacity="0.9"/><path d="M672.90 476.20V479.90" stroke="#ff1a1a" stroke-width="0.75"/>
<path d="M425.00 314.00L427.20 310.04L422.80 310.04Z" fill="#1f9a58"/>
<rect x="422.90" y="311.20" width="4.2" height="1.2" fill="#ff1a1a" opacity="0.9"/><path d="M425.00 310.00V313.70" stroke="#ff1a1a" stroke-width="0.75"/>
<path d="M448.10 328.20L450.30 324.24L445.90 324.24Z" fill="#1f9a58"/>
<rect x="446.00" y="325.40" width="4.2" height="1.2" fill="#ff1a1a" opacity="0.9"/><path d="M448.10 324.20V327.90" stroke="#ff1a1a" stroke-width="0.75"/>
<path d="M486.30 353.00L488.50 349.04L484.10 349.04Z" fill="#1f9a58"/>
<rect x="484.20" y="350.20" width="4.2" height="1.2" fill="#ff1a1a" opacity="0.9"/><path d="M486.30 349.00V352.70" stroke="#ff1a1a" stroke-width="0.75"/>
<path d="M501.70 365.90L503.90 361.94L499.50 361.94Z" fill="#1f9a58"/>
<rect x="499.60" y="363.10" width="4.2" height="1.2" fill="#ff1a1a" opacity="0.9"/><path d="M501.70 361.90V365.60" stroke="#ff1a1a" stroke-width="0.75"/>
<path d="M512.10 373.80L514.30 369.84L509.90 369.84Z" fill="#1f9a58"/>
<rect x="510.00" y="371.00" width="4.2" height="1.2" fill="#ff1a1a" opacity="0.9"/><path d="M512.10 369.80V373.50" stroke="#ff1a1a" stroke-width="0.75"/>
<path d="M524.30 386.70L526.50 382.74L522.10 382.74Z" fill="#1f9a58"/>
<rect x="522.20" y="383.90" width="4.2" height="1.2" fill="#ff1a1a" opacity="0.9"/><path d="M524.30 382.70V386.40" stroke="#ff1a1a" stroke-width="0.75"/>
<path d="M562.10 426.20L564.30 422.24L559.90 422.24Z" fill="#1f9a58"/>
<rect x="560.00" y="423.40" width="4.2" height="1.2" fill="#ff1a1a" opacity="0.9"/><path d="M562.10 422.20V425.90" stroke="#ff1a1a" stroke-width="0.75"/>
<path d="M612.70 457.20L614.90 453.24L610.50 453.24Z" fill="#1f9a58"/>
<rect x="610.60" y="454.40" width="4.2" height="1.2" fill="#ff1a1a" opacity="0.9"/><path d="M612.70 453.20V456.90" stroke="#ff1a1a" stroke-width="0.75"/>
<path d="M638.00 468.70L640.20 464.74L635.80 464.74Z" fill="#1f9a58"/>
<rect x="635.90" y="465.90" width="4.2" height="1.2" fill="#ff1a1a" opacity="0.9"/><path d="M638.00 464.70V468.40" stroke="#ff1a1a" stroke-width="0.75"/>
<path d="M650.80 471.40L653.00 467.44L648.60 467.44Z" fill="#1f9a58"/>
<rect x="648.70" y="468.60" width="4.2" height="1.2" fill="#ff1a1a" opacity="0.9"/><path d="M650.80 467.40V471.10" stroke="#ff1a1a" stroke-width="0.75"/>
<path d="M672.90 478.70L675.10 474.74L670.70 474.74Z" fill="#1f9a58"/>
<rect x="670.80" y="475.90" width="4.2" height="1.2" fill="#ff1a1a" opacity="0.9"/><path d="M672.90 474.70V478.40" stroke="#ff1a1a" stroke-width="0.75"/>
<path d="M425.00 313.30L426.98 315.50L425.00 317.70L423.02 315.50Z" fill="#b05ce6"/>
<rect x="422.90" y="314.90" width="4.2" height="1.2" fill="#ff1a1a" opacity="0.9"/><path d="M425.00 313.70V317.40" stroke="#ff1a1a" stroke-width="0.75"/>
<path d="M448.10 330.00L450.08 332.20L448.10 334.40L446.12 332.20Z" fill="#b05ce6"/>
<rect x="446.00" y="331.60" width="4.2" height="1.2" fill="#ff1a1a" opacity="0.9"/><path d="M448.10 330.40V334.10" stroke="#ff1a1a" stroke-width="0.75"/>
<path d="M486.30 361.50L488.28 363.70L486.30 365.90L484.32 363.70Z" fill="#b05ce6"/>
<rect x="484.20" y="363.10" width="4.2" height="1.2" fill="#ff1a1a" opacity="0.9"/><path d="M486.30 361.90V365.60" stroke="#ff1a1a" stroke-width="0.75"/>
<path d="M501.70 363.80L503.68 366.00L501.70 368.20L499.72 366.00Z" fill="#b05ce6"/>
<rect x="499.60" y="365.40" width="4.2" height="1.2" fill="#ff1a1a" opacity="0.9"/><path d="M501.70 364.20V367.90" stroke="#ff1a1a" stroke-width="0.75"/>
<path d="M512.10 372.80L514.08 375.00L512.10 377.20L510.12 375.00Z" fill="#b05ce6"/>
<rect x="510.00" y="374.40" width="4.2" height="1.2" fill="#ff1a1a" opacity="0.9"/><path d="M512.10 373.20V376.90" stroke="#ff1a1a" stroke-width="0.75"/>
<path d="M524.30 384.80L526.28 387.00L524.30 389.20L522.32 387.00Z" fill="#b05ce6"/>
<rect x="522.20" y="386.40" width="4.2" height="1.2" fill="#ff1a1a" opacity="0.9"/><path d="M524.30 385.20V388.90" stroke="#ff1a1a" stroke-width="0.75"/>
<path d="M562.10 423.80L564.08 426.00L562.10 428.20L560.12 426.00Z" fill="#b05ce6"/>
<rect x="560.00" y="425.40" width="4.2" height="1.2" fill="#ff1a1a" opacity="0.9"/><path d="M562.10 424.20V427.90" stroke="#ff1a1a" stroke-width="0.75"/>
<path d="M612.70 454.30L614.68 456.50L612.70 458.70L610.72 456.50Z" fill="#b05ce6"/>
<rect x="610.60" y="455.90" width="4.2" height="1.2" fill="#ff1a1a" opacity="0.9"/><path d="M612.70 454.70V458.40" stroke="#ff1a1a" stroke-width="0.75"/>
<path d="M638.00 466.30L639.98 468.50L638.00 470.70L636.02 468.50Z" fill="#b05ce6"/>
<rect x="635.90" y="467.90" width="4.2" height="1.2" fill="#ff1a1a" opacity="0.9"/><path d="M638.00 466.70V470.40" stroke="#ff1a1a" stroke-width="0.75"/>
<path d="M650.80 467.40L652.78 469.60L650.80 471.80L648.82 469.60Z" fill="#b05ce6"/>
<rect x="648.70" y="469.00" width="4.2" height="1.2" fill="#ff1a1a" opacity="0.9"/><path d="M650.80 467.80V471.50" stroke="#ff1a1a" stroke-width="0.75"/>
<path d="M672.90 475.80L674.88 478.00L672.90 480.20L670.92 478.00Z" fill="#b05ce6"/>
<rect x="670.80" y="477.40" width="4.2" height="1.2" fill="#ff1a1a" opacity="0.9"/><path d="M672.90 476.20V479.90" stroke="#ff1a1a" stroke-width="0.75"/>
<path d="M422.80 319.40L426.76 317.20L426.76 321.60Z" fill="#d49a00"/>
<rect x="422.90" y="318.80" width="4.2" height="1.2" fill="#ff1a1a" opacity="0.9"/><path d="M425.00 317.60V321.30" stroke="#ff1a1a" stroke-width="0.75"/>
<path d="M445.90 334.40L449.86 332.20L449.86 336.60Z" fill="#d49a00"/>
<rect x="446.00" y="333.80" width="4.2" height="1.2" fill="#ff1a1a" opacity="0.9"/><path d="M448.10 332.60V336.30" stroke="#ff1a1a" stroke-width="0.75"/>
<path d="M484.10 366.50L488.06 364.30L488.06 368.70Z" fill="#d49a00"/>
<rect x="484.20" y="365.90" width="4.2" height="1.2" fill="#ff1a1a" opacity="0.9"/><path d="M486.30 364.70V368.40" stroke="#ff1a1a" stroke-width="0.75"/>
<path d="M499.50 368.00L503.46 365.80L503.46 370.20Z" fill="#d49a00"/>
<rect x="499.60" y="367.40" width="4.2" height="1.2" fill="#ff1a1a" opacity="0.9"/><path d="M501.70 366.20V369.90" stroke="#ff1a1a" stroke-width="0.75"/>
<path d="M509.90 376.00L513.86 373.80L513.86 378.20Z" fill="#d49a00"/>
<rect x="510.00" y="375.40" width="4.2" height="1.2" fill="#ff1a1a" opacity="0.9"/><path d="M512.10 374.20V377.90" stroke="#ff1a1a" stroke-width="0.75"/>
<path d="M522.10 388.20L526.06 386.00L526.06 390.40Z" fill="#d49a00"/>
<rect x="522.20" y="387.60" width="4.2" height="1.2" fill="#ff1a1a" opacity="0.9"/><path d="M524.30 386.40V390.10" stroke="#ff1a1a" stroke-width="0.75"/>
<path d="M559.90 427.50L563.86 425.30L563.86 429.70Z" fill="#d49a00"/>
<rect x="560.00" y="426.90" width="4.2" height="1.2" fill="#ff1a1a" opacity="0.9"/><path d="M562.10 425.70V429.40" stroke="#ff1a1a" stroke-width="0.75"/>
<path d="M610.50 457.40L614.46 455.20L614.46 459.60Z" fill="#d49a00"/>
<rect x="610.60" y="456.80" width="4.2" height="1.2" fill="#ff1a1a" opacity="0.9"/><path d="M612.70 455.60V459.30" stroke="#ff1a1a" stroke-width="0.75"/>
<path d="M635.80 469.40L639.76 467.20L639.76 471.60Z" fill="#d49a00"/>
<rect x="635.90" y="468.80" width="4.2" height="1.2" fill="#ff1a1a" opacity="0.9"/><path d="M638.00 467.60V471.30" stroke="#ff1a1a" stroke-width="0.75"/>
<path d="M648.60 469.80L652.56 467.60L652.56 472.00Z" fill="#d49a00"/>
<rect x="648.70" y="469.20" width="4.2" height="1.2" fill="#ff1a1a" opacity="0.9"/><path d="M650.80 468.00V471.70" stroke="#ff1a1a" stroke-width="0.75"/>
<path d="M670.70 479.00L674.66 476.80L674.66 481.20Z" fill="#d49a00"/>
<rect x="670.80" y="478.40" width="4.2" height="1.2" fill="#ff1a1a" opacity="0.9"/><path d="M672.90 477.20V480.90" stroke="#ff1a1a" stroke-width="0.75"/>
<rect x="567.50" y="301.20" width="116.50" height="59.90" fill="#fff"/>
<path d="M567.50 301.20H684.00V361.10" stroke="#cdcdcd" stroke-width="1.0" fill="none"/>
<path d="M567.50 301.20V361.10H684.00" stroke="#a6a6a6" stroke-width="1.0" fill="none"/>
<path d="M568.50 306.80H586.70" stroke="#b0b0b0" stroke-width="0.8"/>
<rect x="575.62" y="305.12" width="3.36" height="3.36" fill="#2b2b2b"/>
<text x="588.90" y="309.50" font-family='"Liberation Serif", serif' font-size="7.9" fill="#1a1a1a" stroke="#1a1a1a" stroke-width="0.18">LDPE 20% 100 nanometer Bi</text>
<path d="M568.50 316.60H586.70" stroke="#ffa8a8" stroke-width="0.8"/>
<circle cx="577.30" cy="316.60" r="1.99" fill="#f0202a"/>
<text x="588.90" y="319.30" font-family='"Liberation Serif", serif' font-size="7.9" fill="#1a1a1a" stroke="#1a1a1a" stroke-width="0.18">LDPE 20% 10 micrometer Bi</text>
<path d="M568.50 326.40H586.70" stroke="#a6c4f4" stroke-width="0.8"/>
<path d="M577.30 324.30L579.40 328.08L575.20 328.08Z" fill="#1a5fe0"/>
<text x="588.90" y="329.10" font-family='"Liberation Serif", serif' font-size="7.9" fill="#1a1a1a" stroke="#1a1a1a" stroke-width="0.18">LDPE 20% Bulk Bi</text>
<path d="M568.50 336.20H586.70" stroke="#a6dcbe" stroke-width="0.8"/>
<path d="M577.30 338.30L579.40 334.52L575.20 334.52Z" fill="#1f9a58"/>
<text x="588.90" y="338.90" font-family='"Liberation Serif", serif' font-size="7.9" fill="#1a1a1a" stroke="#1a1a1a" stroke-width="0.18">LDPE 5% 100 nanometer Bi</text>
<path d="M568.50 346.00H586.70" stroke="#dfc6f8" stroke-width="0.8"/>
<path d="M577.30 343.90L579.19 346.00L577.30 348.10L575.41 346.00Z" fill="#b05ce6"/>
<text x="588.90" y="348.70" font-family='"Liberation Serif", serif' font-size="7.9" fill="#1a1a1a" stroke="#1a1a1a" stroke-width="0.18">LDPE 5% 10 micrometer Bi</text>
<path d="M568.50 355.80H586.70" stroke="#f0d68c" stroke-width="0.8"/>
<path d="M575.20 355.80L578.98 353.70L578.98 357.90Z" fill="#d49a00"/>
<text x="588.90" y="358.50" font-family='"Liberation Serif", serif' font-size="7.9" fill="#1a1a1a" stroke="#1a1a1a" stroke-width="0.18">LDPE 5% Bulk Bi</text>
<path d="M225.40 593.50V802.80M221.40 802.80H485.80" stroke="#7a7a7a" stroke-width="1.25" fill="none"/>
<path d="M221.40 599.00H225.40" stroke="#7a7a7a" stroke-width="1.45"/>
<text x="215.60" y="602.80" font-family='"Liberation Serif", serif' font-weight="bold" font-size="8.6" text-anchor="end">2</text>
<text x="215.70" y="598.70" font-family='"Liberation Serif", serif' font-weight="bold" font-size="5.7">5</text>
<path d="M221.40 639.76H225.40" stroke="#7a7a7a" stroke-width="1.45"/>
<text x="215.60" y="643.56" font-family='"Liberation Serif", serif' font-weight="bold" font-size="8.6" text-anchor="end">2</text>
<text x="215.70" y="639.46" font-family='"Liberation Serif", serif' font-weight="bold" font-size="5.7">4</text>
<path d="M221.40 680.52H225.40" stroke="#7a7a7a" stroke-width="1.45"/>
<text x="215.60" y="684.32" font-family='"Liberation Serif", serif' font-weight="bold" font-size="8.6" text-anchor="end">2</text>
<text x="215.70" y="680.22" font-family='"Liberation Serif", serif' font-weight="bold" font-size="5.7">3</text>
<path d="M221.40 721.28H225.40" stroke="#7a7a7a" stroke-width="1.45"/>
<text x="215.60" y="725.08" font-family='"Liberation Serif", serif' font-weight="bold" font-size="8.6" text-anchor="end">2</text>
<text x="215.70" y="720.98" font-family='"Liberation Serif", serif' font-weight="bold" font-size="5.7">2</text>
<path d="M221.40 762.04H225.40" stroke="#7a7a7a" stroke-width="1.45"/>
<text x="215.60" y="765.84" font-family='"Liberation Serif", serif' font-weight="bold" font-size="8.6" text-anchor="end">2</text>
<text x="215.70" y="761.74" font-family='"Liberation Serif", serif' font-weight="bold" font-size="5.7">1</text>
<text x="215.60" y="806.60" font-family='"Liberation Serif", serif' font-weight="bold" font-size="8.6" text-anchor="end">2</text>
<text x="215.70" y="802.50" font-family='"Liberation Serif", serif' font-weight="bold" font-size="5.7">0</text>
<path d="M256.60 802.80V806.00" stroke="#7a7a7a" stroke-width="1.1"/>
<text x="256.60" y="817.00" font-family='"Liberation Serif", serif' font-weight="bold" font-size="9.0" text-anchor="middle">0.25</text>
<path d="M294.80 802.80V806.00" stroke="#7a7a7a" stroke-width="1.1"/>
<text x="294.80" y="817.00" font-family='"Liberation Serif", serif' font-weight="bold" font-size="9.0" text-anchor="middle">0.5</text>
<path d="M333.00 802.80V806.00" stroke="#7a7a7a" stroke-width="1.1"/>
<text x="333.00" y="817.00" font-family='"Liberation Serif", serif' font-weight="bold" font-size="9.0" text-anchor="middle">1</text>
<path d="M371.20 802.80V806.00" stroke="#7a7a7a" stroke-width="1.1"/>
<text x="371.20" y="817.00" font-family='"Liberation Serif", serif' font-weight="bold" font-size="9.0" text-anchor="middle">2</text>
<path d="M409.40 802.80V806.00" stroke="#7a7a7a" stroke-width="1.1"/>
<text x="409.40" y="817.00" font-family='"Liberation Serif", serif' font-weight="bold" font-size="9.0" text-anchor="middle">4</text>
<path d="M447.60 802.80V806.00" stroke="#7a7a7a" stroke-width="1.1"/>
<text x="447.60" y="817.00" font-family='"Liberation Serif", serif' font-weight="bold" font-size="9.0" text-anchor="middle">8</text>
<path d="M485.80 802.80V806.00" stroke="#7a7a7a" stroke-width="1.1"/>
<text x="485.80" y="817.00" font-family='"Liberation Serif", serif' font-weight="bold" font-size="9.0" text-anchor="middle">16</text>
<text x="355.60" y="833.60" font-family='"Liberation Serif", serif' font-weight="bold" font-size="11.0" text-anchor="middle">Energy(MeV)</text>
<text transform="translate(202.70 698.20) rotate(-90)" font-family='"Liberation Serif", serif' font-weight="bold" font-size="10.8" text-anchor="middle">RC</text>
<polyline points="233.40,603.80 256.30,617.00 294.70,643.20 310.10,655.40 320.60,665.60 332.90,677.70 371.00,715.30 421.50,747.70 447.50,755.90 460.00,761.00 482.20,769.60" fill="none" stroke="#b0b0b0" stroke-width="0.8"/>
<polyline points="233.40,609.00 256.30,621.40 294.70,648.40 310.10,659.40 320.60,670.00 332.90,679.50 371.00,717.50 421.50,750.00 447.50,758.50 460.00,762.00 482.20,771.50" fill="none" stroke="#ffa8a8" stroke-width="0.8"/>
<polyline points="233.40,611.60 256.30,623.50 294.70,653.30 310.10,665.60 320.60,670.50 332.90,680.20 371.00,718.50 421.50,751.50 447.50,759.50 460.00,762.80 482.20,773.00" fill="none" stroke="#a6c4f4" stroke-width="0.8"/>
<polyline points="233.40,605.00 256.30,618.20 294.70,643.80 310.10,656.50 320.60,667.00 332.90,678.30 371.00,716.00 421.50,748.50 447.50,756.50 460.00,761.50 482.20,770.00" fill="none" stroke="#a6dcbe" stroke-width="0.8"/>
<polyline points="233.40,614.80 256.30,624.40 294.70,653.00 310.10,663.80 320.60,670.20 332.90,680.00 371.00,719.00 421.50,754.50 447.50,764.00 460.00,768.50 482.20,775.50" fill="none" stroke="#dfc6f8" stroke-width="0.8"/>
<polyline points="233.40,616.50 256.30,626.70 294.70,659.40 310.10,667.30 320.60,670.80 332.90,680.80 371.00,719.90 421.50,755.50 447.50,765.00 460.00,769.50 482.20,776.50" fill="none" stroke="#f0d68c" stroke-width="0.8"/>
<rect x="231.64" y="602.04" width="3.52" height="3.52" fill="#2b2b2b"/>
<rect x="231.30" y="603.20" width="4.2" height="1.2" fill="#ff1a1a" opacity="0.9"/><path d="M233.40 602.00V605.70" stroke="#ff1a1a" stroke-width="0.75"/>
<rect x="254.54" y="615.24" width="3.52" height="3.52" fill="#2b2b2b"/>
<rect x="254.20" y="616.40" width="4.2" height="1.2" fill="#ff1a1a" opacity="0.9"/><path d="M256.30 615.20V618.90" stroke="#ff1a1a" stroke-width="0.75"/>
<rect x="292.94" y="641.44" width="3.52" height="3.52" fill="#2b2b2b"/>
<rect x="292.60" y="642.60" width="4.2" height="1.2" fill="#ff1a1a" opacity="0.9"/><path d="M294.70 641.40V645.10" stroke="#ff1a1a" stroke-width="0.75"/>
<rect x="308.34" y="653.64" width="3.52" height="3.52" fill="#2b2b2b"/>
<rect x="308.00" y="654.80" width="4.2" height="1.2" fill="#ff1a1a" opacity="0.9"/><path d="M310.10 653.60V657.30" stroke="#ff1a1a" stroke-width="0.75"/>
<rect x="318.84" y="663.84" width="3.52" height="3.52" fill="#2b2b2b"/>
<rect x="318.50" y="665.00" width="4.2" height="1.2" fill="#ff1a1a" opacity="0.9"/><path d="M320.60 663.80V667.50" stroke="#ff1a1a" stroke-width="0.75"/>
<rect x="331.14" y="675.94" width="3.52" height="3.52" fill="#2b2b2b"/>
<rect x="330.80" y="677.10" width="4.2" height="1.2" fill="#ff1a1a" opacity="0.9"/><path d="M332.90 675.90V679.60" stroke="#ff1a1a" stroke-width="0.75"/>
<rect x="369.24" y="713.54" width="3.52" height="3.52" fill="#2b2b2b"/>
<rect x="368.90" y="714.70" width="4.2" height="1.2" fill="#ff1a1a" opacity="0.9"/><path d="M371.00 713.50V717.20" stroke="#ff1a1a" stroke-width="0.75"/>
<rect x="419.74" y="745.94" width="3.52" height="3.52" fill="#2b2b2b"/>
<rect x="419.40" y="747.10" width="4.2" height="1.2" fill="#ff1a1a" opacity="0.9"/><path d="M421.50 745.90V749.60" stroke="#ff1a1a" stroke-width="0.75"/>
<rect x="445.74" y="754.14" width="3.52" height="3.52" fill="#2b2b2b"/>
<rect x="445.40" y="755.30" width="4.2" height="1.2" fill="#ff1a1a" opacity="0.9"/><path d="M447.50 754.10V757.80" stroke="#ff1a1a" stroke-width="0.75"/>
<rect x="458.24" y="759.24" width="3.52" height="3.52" fill="#2b2b2b"/>
<rect x="457.90" y="760.40" width="4.2" height="1.2" fill="#ff1a1a" opacity="0.9"/><path d="M460.00 759.20V762.90" stroke="#ff1a1a" stroke-width="0.75"/>
<rect x="480.44" y="767.84" width="3.52" height="3.52" fill="#2b2b2b"/>
<rect x="480.10" y="769.00" width="4.2" height="1.2" fill="#ff1a1a" opacity="0.9"/><path d="M482.20 767.80V771.50" stroke="#ff1a1a" stroke-width="0.75"/>
<circle cx="233.40" cy="609.00" r="2.09" fill="#f0202a"/>
<rect x="231.30" y="608.40" width="4.2" height="1.2" fill="#ff1a1a" opacity="0.9"/><path d="M233.40 607.20V610.90" stroke="#ff1a1a" stroke-width="0.75"/>
<circle cx="256.30" cy="621.40" r="2.09" fill="#f0202a"/>
<rect x="254.20" y="620.80" width="4.2" height="1.2" fill="#ff1a1a" opacity="0.9"/><path d="M256.30 619.60V623.30" stroke="#ff1a1a" stroke-width="0.75"/>
<circle cx="294.70" cy="648.40" r="2.09" fill="#f0202a"/>
<rect x="292.60" y="647.80" width="4.2" height="1.2" fill="#ff1a1a" opacity="0.9"/><path d="M294.70 646.60V650.30" stroke="#ff1a1a" stroke-width="0.75"/>
<circle cx="310.10" cy="659.40" r="2.09" fill="#f0202a"/>
<rect x="308.00" y="658.80" width="4.2" height="1.2" fill="#ff1a1a" opacity="0.9"/><path d="M310.10 657.60V661.30" stroke="#ff1a1a" stroke-width="0.75"/>
<circle cx="320.60" cy="670.00" r="2.09" fill="#f0202a"/>
<rect x="318.50" y="669.40" width="4.2" height="1.2" fill="#ff1a1a" opacity="0.9"/><path d="M320.60 668.20V671.90" stroke="#ff1a1a" stroke-width="0.75"/>
<circle cx="332.90" cy="679.50" r="2.09" fill="#f0202a"/>
<rect x="330.80" y="678.90" width="4.2" height="1.2" fill="#ff1a1a" opacity="0.9"/><path d="M332.90 677.70V681.40" stroke="#ff1a1a" stroke-width="0.75"/>
<circle cx="371.00" cy="717.50" r="2.09" fill="#f0202a"/>
<rect x="368.90" y="716.90" width="4.2" height="1.2" fill="#ff1a1a" opacity="0.9"/><path d="M371.00 715.70V719.40" stroke="#ff1a1a" stroke-width="0.75"/>
<circle cx="421.50" cy="750.00" r="2.09" fill="#f0202a"/>
<rect x="419.40" y="749.40" width="4.2" height="1.2" fill="#ff1a1a" opacity="0.9"/><path d="M421.50 748.20V751.90" stroke="#ff1a1a" stroke-width="0.75"/>
<circle cx="447.50" cy="758.50" r="2.09" fill="#f0202a"/>
<rect x="445.40" y="757.90" width="4.2" height="1.2" fill="#ff1a1a" opacity="0.9"/><path d="M447.50 756.70V760.40" stroke="#ff1a1a" stroke-width="0.75"/>
<circle cx="460.00" cy="762.00" r="2.09" fill="#f0202a"/>
<rect x="457.90" y="761.40" width="4.2" height="1.2" fill="#ff1a1a" opacity="0.9"/><path d="M460.00 760.20V763.90" stroke="#ff1a1a" stroke-width="0.75"/>
<circle cx="482.20" cy="771.50" r="2.09" fill="#f0202a"/>
<rect x="480.10" y="770.90" width="4.2" height="1.2" fill="#ff1a1a" opacity="0.9"/><path d="M482.20 769.70V773.40" stroke="#ff1a1a" stroke-width="0.75"/>
<path d="M233.40 609.40L235.60 613.36L231.20 613.36Z" fill="#1a5fe0"/>
<rect x="231.30" y="611.00" width="4.2" height="1.2" fill="#ff1a1a" opacity="0.9"/><path d="M233.40 609.80V613.50" stroke="#ff1a1a" stroke-width="0.75"/>
<path d="M256.30 621.30L258.50 625.26L254.10 625.26Z" fill="#1a5fe0"/>
<rect x="254.20" y="622.90" width="4.2" height="1.2" fill="#ff1a1a" opacity="0.9"/><path d="M256.30 621.70V625.40" stroke="#ff1a1a" stroke-width="0.75"/>
<path d="M294.70 651.10L296.90 655.06L292.50 655.06Z" fill="#1a5fe0"/>
<rect x="292.60" y="652.70" width="4.2" height="1.2" fill="#ff1a1a" opacity="0.9"/><path d="M294.70 651.50V655.20" stroke="#ff1a1a" stroke-width="0.75"/>
<path d="M310.10 663.40L312.30 667.36L307.90 667.36Z" fill="#1a5fe0"/>
<rect x="308.00" y="665.00" width="4.2" height="1.2" fill="#ff1a1a" opacity="0.9"/><path d="M310.10 663.80V667.50" stroke="#ff1a1a" stroke-width="0.75"/>
<path d="M320.60 668.30L322.80 672.26L318.40 672.26Z" fill="#1a5fe0"/>
<rect x="318.50" y="669.90" width="4.2" height="1.2" fill="#ff1a1a" opacity="0.9"/><path d="M320.60 668.70V672.40" stroke="#ff1a1a" stroke-width="0.75"/>
<path d="M332.90 678.00L335.10 681.96L330.70 681.96Z" fill="#1a5fe0"/>
<rect x="330.80" y="679.60" width="4.2" height="1.2" fill="#ff1a1a" opacity="0.9"/><path d="M332.90 678.40V682.10" stroke="#ff1a1a" stroke-width="0.75"/>
<path d="M371.00 716.30L373.20 720.26L368.80 720.26Z" fill="#1a5fe0"/>
<rect x="368.90" y="717.90" width="4.2" height="1.2" fill="#ff1a1a" opacity="0.9"/><path d="M371.00 716.70V720.40" stroke="#ff1a1a" stroke-width="0.75"/>
<path d="M421.50 749.30L423.70 753.26L419.30 753.26Z" fill="#1a5fe0"/>
<rect x="419.40" y="750.90" width="4.2" height="1.2" fill="#ff1a1a" opacity="0.9"/><path d="M421.50 749.70V753.40" stroke="#ff1a1a" stroke-width="0.75"/>
<path d="M447.50 757.30L449.70 761.26L445.30 761.26Z" fill="#1a5fe0"/>
<rect x="445.40" y="758.90" width="4.2" height="1.2" fill="#ff1a1a" opacity="0.9"/><path d="M447.50 757.70V761.40" stroke="#ff1a1a" stroke-width="0.75"/>
<path d="M460.00 760.60L462.20 764.56L457.80 764.56Z" fill="#1a5fe0"/>
<rect x="457.90" y="762.20" width="4.2" height="1.2" fill="#ff1a1a" opacity="0.9"/><path d="M460.00 761.00V764.70" stroke="#ff1a1a" stroke-width="0.75"/>
<path d="M482.20 770.80L484.40 774.76L480.00 774.76Z" fill="#1a5fe0"/>
<rect x="480.10" y="772.40" width="4.2" height="1.2" fill="#ff1a1a" opacity="0.9"/><path d="M482.20 771.20V774.90" stroke="#ff1a1a" stroke-width="0.75"/>
<path d="M233.40 607.20L235.60 603.24L231.20 603.24Z" fill="#1f9a58"/>
<rect x="231.30" y="604.40" width="4.2" height="1.2" fill="#ff1a1a" opacity="0.9"/><path d="M233.40 603.20V606.90" stroke="#ff1a1a" stroke-width="0.75"/>
<path d="M256.30 620.40L258.50 616.44L254.10 616.44Z" fill="#1f9a58"/>
<rect x="254.20" y="617.60" width="4.2" height="1.2" fill="#ff1a1a" opacity="0.9"/><path d="M256.30 616.40V620.10" stroke="#ff1a1a" stroke-width="0.75"/>
<path d="M294.70 646.00L296.90 642.04L292.50 642.04Z" fill="#1f9a58"/>
<rect x="292.60" y="643.20" width="4.2" height="1.2" fill="#ff1a1a" opacity="0.9"/><path d="M294.70 642.00V645.70" stroke="#ff1a1a" stroke-width="0.75"/>
<path d="M310.10 658.70L312.30 654.74L307.90 654.74Z" fill="#1f9a58"/>
<rect x="308.00" y="655.90" width="4.2" height="1.2" fill="#ff1a1a" opacity="0.9"/><path d="M310.10 654.70V658.40" stroke="#ff1a1a" stroke-width="0.75"/>
<path d="M320.60 669.20L322.80 665.24L318.40 665.24Z" fill="#1f9a58"/>
<rect x="318.50" y="666.40" width="4.2" height="1.2" fill="#ff1a1a" opacity="0.9"/><path d="M320.60 665.20V668.90" stroke="#ff1a1a" stroke-width="0.75"/>
<path d="M332.90 680.50L335.10 676.54L330.70 676.54Z" fill="#1f9a58"/>
<rect x="330.80" y="677.70" width="4.2" height="1.2" fill="#ff1a1a" opacity="0.9"/><path d="M332.90 676.50V680.20" stroke="#ff1a1a" stroke-width="0.75"/>
<path d="M371.00 718.20L373.20 714.24L368.80 714.24Z" fill="#1f9a58"/>
<rect x="368.90" y="715.40" width="4.2" height="1.2" fill="#ff1a1a" opacity="0.9"/><path d="M371.00 714.20V717.90" stroke="#ff1a1a" stroke-width="0.75"/>
<path d="M421.50 750.70L423.70 746.74L419.30 746.74Z" fill="#1f9a58"/>
<rect x="419.40" y="747.90" width="4.2" height="1.2" fill="#ff1a1a" opacity="0.9"/><path d="M421.50 746.70V750.40" stroke="#ff1a1a" stroke-width="0.75"/>
<path d="M447.50 758.70L449.70 754.74L445.30 754.74Z" fill="#1f9a58"/>
<rect x="445.40" y="755.90" width="4.2" height="1.2" fill="#ff1a1a" opacity="0.9"/><path d="M447.50 754.70V758.40" stroke="#ff1a1a" stroke-width="0.75"/>
<path d="M460.00 763.70L462.20 759.74L457.80 759.74Z" fill="#1f9a58"/>
<rect x="457.90" y="760.90" width="4.2" height="1.2" fill="#ff1a1a" opacity="0.9"/><path d="M460.00 759.70V763.40" stroke="#ff1a1a" stroke-width="0.75"/>
<path d="M482.20 772.20L484.40 768.24L480.00 768.24Z" fill="#1f9a58"/>
<rect x="480.10" y="769.40" width="4.2" height="1.2" fill="#ff1a1a" opacity="0.9"/><path d="M482.20 768.20V771.90" stroke="#ff1a1a" stroke-width="0.75"/>
<path d="M233.40 612.60L235.38 614.80L233.40 617.00L231.42 614.80Z" fill="#b05ce6"/>
<rect x="231.30" y="614.20" width="4.2" height="1.2" fill="#ff1a1a" opacity="0.9"/><path d="M233.40 613.00V616.70" stroke="#ff1a1a" stroke-width="0.75"/>
<path d="M256.30 622.20L258.28 624.40L256.30 626.60L254.32 624.40Z" fill="#b05ce6"/>
<rect x="254.20" y="623.80" width="4.2" height="1.2" fill="#ff1a1a" opacity="0.9"/><path d="M256.30 622.60V626.30" stroke="#ff1a1a" stroke-width="0.75"/>
<path d="M294.70 650.80L296.68 653.00L294.70 655.20L292.72 653.00Z" fill="#b05ce6"/>
<rect x="292.60" y="652.40" width="4.2" height="1.2" fill="#ff1a1a" opacity="0.9"/><path d="M294.70 651.20V654.90" stroke="#ff1a1a" stroke-width="0.75"/>
<path d="M310.10 661.60L312.08 663.80L310.10 666.00L308.12 663.80Z" fill="#b05ce6"/>
<rect x="308.00" y="663.20" width="4.2" height="1.2" fill="#ff1a1a" opacity="0.9"/><path d="M310.10 662.00V665.70" stroke="#ff1a1a" stroke-width="0.75"/>
<path d="M320.60 668.00L322.58 670.20L320.60 672.40L318.62 670.20Z" fill="#b05ce6"/>
<rect x="318.50" y="669.60" width="4.2" height="1.2" fill="#ff1a1a" opacity="0.9"/><path d="M320.60 668.40V672.10" stroke="#ff1a1a" stroke-width="0.75"/>
<path d="M332.90 677.80L334.88 680.00L332.90 682.20L330.92 680.00Z" fill="#b05ce6"/>
<rect x="330.80" y="679.40" width="4.2" height="1.2" fill="#ff1a1a" opacity="0.9"/><path d="M332.90 678.20V681.90" stroke="#ff1a1a" stroke-width="0.75"/>
<path d="M371.00 716.80L372.98 719.00L371.00 721.20L369.02 719.00Z" fill="#b05ce6"/>
<rect x="368.90" y="718.40" width="4.2" height="1.2" fill="#ff1a1a" opacity="0.9"/><path d="M371.00 717.20V720.90" stroke="#ff1a1a" stroke-width="0.75"/>
<path d="M421.50 752.30L423.48 754.50L421.50 756.70L419.52 754.50Z" fill="#b05ce6"/>
<rect x="419.40" y="753.90" width="4.2" height="1.2" fill="#ff1a1a" opacity="0.9"/><path d="M421.50 752.70V756.40" stroke="#ff1a1a" stroke-width="0.75"/>
<path d="M447.50 761.80L449.48 764.00L447.50 766.20L445.52 764.00Z" fill="#b05ce6"/>
<rect x="445.40" y="763.40" width="4.2" height="1.2" fill="#ff1a1a" opacity="0.9"/><path d="M447.50 762.20V765.90" stroke="#ff1a1a" stroke-width="0.75"/>
<path d="M460.00 766.30L461.98 768.50L460.00 770.70L458.02 768.50Z" fill="#b05ce6"/>
<rect x="457.90" y="767.90" width="4.2" height="1.2" fill="#ff1a1a" opacity="0.9"/><path d="M460.00 766.70V770.40" stroke="#ff1a1a" stroke-width="0.75"/>
<path d="M482.20 773.30L484.18 775.50L482.20 777.70L480.22 775.50Z" fill="#b05ce6"/>
<rect x="480.10" y="774.90" width="4.2" height="1.2" fill="#ff1a1a" opacity="0.9"/><path d="M482.20 773.70V777.40" stroke="#ff1a1a" stroke-width="0.75"/>
<path d="M231.20 616.50L235.16 614.30L235.16 618.70Z" fill="#d49a00"/>
<rect x="231.30" y="615.90" width="4.2" height="1.2" fill="#ff1a1a" opacity="0.9"/><path d="M233.40 614.70V618.40" stroke="#ff1a1a" stroke-width="0.75"/>
<path d="M254.10 626.70L258.06 624.50L258.06 628.90Z" fill="#d49a00"/>
<rect x="254.20" y="626.10" width="4.2" height="1.2" fill="#ff1a1a" opacity="0.9"/><path d="M256.30 624.90V628.60" stroke="#ff1a1a" stroke-width="0.75"/>
<path d="M292.50 659.40L296.46 657.20L296.46 661.60Z" fill="#d49a00"/>
<rect x="292.60" y="658.80" width="4.2" height="1.2" fill="#ff1a1a" opacity="0.9"/><path d="M294.70 657.60V661.30" stroke="#ff1a1a" stroke-width="0.75"/>
<path d="M307.90 667.30L311.86 665.10L311.86 669.50Z" fill="#d49a00"/>
<rect x="308.00" y="666.70" width="4.2" height="1.2" fill="#ff1a1a" opacity="0.9"/><path d="M310.10 665.50V669.20" stroke="#ff1a1a" stroke-width="0.75"/>
<path d="M318.40 670.80L322.36 668.60L322.36 673.00Z" fill="#d49a00"/>
<rect x="318.50" y="670.20" width="4.2" height="1.2" fill="#ff1a1a" opacity="0.9"/><path d="M320.60 669.00V672.70" stroke="#ff1a1a" stroke-width="0.75"/>
<path d="M330.70 680.80L334.66 678.60L334.66 683.00Z" fill="#d49a00"/>
<rect x="330.80" y="680.20" width="4.2" height="1.2" fill="#ff1a1a" opacity="0.9"/><path d="M332.90 679.00V682.70" stroke="#ff1a1a" stroke-width="0.75"/>
<path d="M368.80 719.90L372.76 717.70L372.76 722.10Z" fill="#d49a00"/>
<rect x="368.90" y="719.30" width="4.2" height="1.2" fill="#ff1a1a" opacity="0.9"/><path d="M371.00 718.10V721.80" stroke="#ff1a1a" stroke-width="0.75"/>
<path d="M419.30 755.50L423.26 753.30L423.26 757.70Z" fill="#d49a00"/>
<rect x="419.40" y="754.90" width="4.2" height="1.2" fill="#ff1a1a" opacity="0.9"/><path d="M421.50 753.70V757.40" stroke="#ff1a1a" stroke-width="0.75"/>
<path d="M445.30 765.00L449.26 762.80L449.26 767.20Z" fill="#d49a00"/>
<rect x="445.40" y="764.40" width="4.2" height="1.2" fill="#ff1a1a" opacity="0.9"/><path d="M447.50 763.20V766.90" stroke="#ff1a1a" stroke-width="0.75"/>
<path d="M457.80 769.50L461.76 767.30L461.76 771.70Z" fill="#d49a00"/>
<rect x="457.90" y="768.90" width="4.2" height="1.2" fill="#ff1a1a" opacity="0.9"/><path d="M460.00 767.70V771.40" stroke="#ff1a1a" stroke-width="0.75"/>
<path d="M480.00 776.50L483.96 774.30L483.96 778.70Z" fill="#d49a00"/>
<rect x="480.10" y="775.90" width="4.2" height="1.2" fill="#ff1a1a" opacity="0.9"/><path d="M482.20 774.70V778.40" stroke="#ff1a1a" stroke-width="0.75"/>
<rect x="376.30" y="594.20" width="116.50" height="59.90" fill="#fff"/>
<path d="M376.30 594.20H492.80V654.10" stroke="#cdcdcd" stroke-width="1.0" fill="none"/>
<path d="M376.30 594.20V654.10H492.80" stroke="#a6a6a6" stroke-width="1.0" fill="none"/>
<path d="M377.30 599.80H395.50" stroke="#b0b0b0" stroke-width="0.8"/>
<rect x="384.42" y="598.12" width="3.36" height="3.36" fill="#2b2b2b"/>
<text x="397.70" y="602.50" font-family='"Liberation Serif", serif' font-size="7.9" fill="#1a1a1a" stroke="#1a1a1a" stroke-width="0.18">LDPE 20% 100 nanometer W</text>
<path d="M377.30 609.60H395.50" stroke="#ffa8a8" stroke-width="0.8"/>
<circle cx="386.10" cy="609.60" r="1.99" fill="#f0202a"/>
<text x="397.70" y="612.30" font-family='"Liberation Serif", serif' font-size="7.9" fill="#1a1a1a" stroke="#1a1a1a" stroke-width="0.18">LDPE 20% 10 micrometer W</text>
<path d="M377.30 619.40H395.50" stroke="#a6c4f4" stroke-width="0.8"/>
<path d="M386.10 617.30L388.20 621.08L384.00 621.08Z" fill="#1a5fe0"/>
<text x="397.70" y="622.10" font-family='"Liberation Serif", serif' font-size="7.9" fill="#1a1a1a" stroke="#1a1a1a" stroke-width="0.18">LDPE 20% Bulk W</text>
<path d="M377.30 629.20H395.50" stroke="#a6dcbe" stroke-width="0.8"/>
<path d="M386.10 631.30L388.20 627.52L384.00 627.52Z" fill="#1f9a58"/>
<text x="397.70" y="631.90" font-family='"Liberation Serif", serif' font-size="7.9" fill="#1a1a1a" stroke="#1a1a1a" stroke-width="0.18">LDPE 5% 100 nanometer W</text>
<path d="M377.30 639.00H395.50" stroke="#dfc6f8" stroke-width="0.8"/>
<path d="M386.10 636.90L387.99 639.00L386.10 641.10L384.21 639.00Z" fill="#b05ce6"/>
<text x="397.70" y="641.70" font-family='"Liberation Serif", serif' font-size="7.9" fill="#1a1a1a" stroke="#1a1a1a" stroke-width="0.18">LDPE 5% 10 micrometer W</text>
<path d="M377.30 648.80H395.50" stroke="#f0d68c" stroke-width="0.8"/>
<path d="M384.00 648.80L387.78 646.70L387.78 650.90Z" fill="#d49a00"/>
<text x="397.70" y="651.50" font-family='"Liberation Serif", serif' font-size="7.9" fill="#1a1a1a" stroke="#1a1a1a" stroke-width="0.18">LDPE 5% Bulk W</text>
</svg>
</body></html>
